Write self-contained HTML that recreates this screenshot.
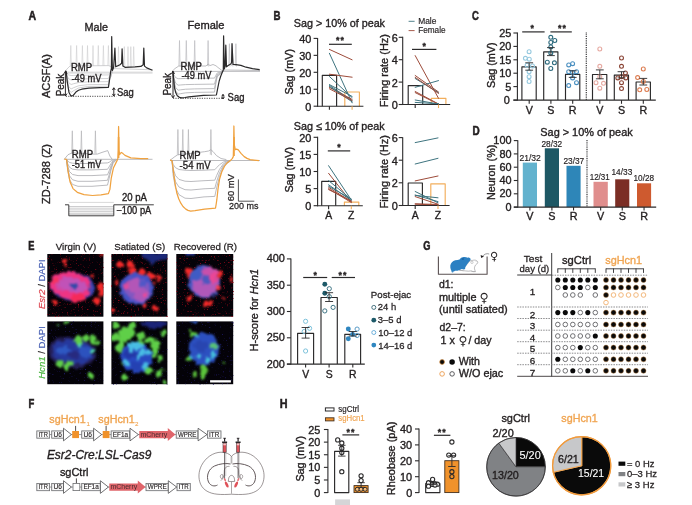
<!DOCTYPE html>
<html lang="en"><head><meta charset="utf-8"><title>Figure</title>
<style>
html,body{margin:0;padding:0;background:#fff;}
body{width:692px;height:505px;overflow:hidden;}
svg{display:block;font-family:"Liberation Sans",sans-serif;fill:#231f20;}
</style></head><body>
<svg width="692" height="505" viewBox="0 0 692 505">
<rect width="692" height="505" fill="#ffffff"/>
<g id="panel_a">
<text font-size="12.2" stroke="#231f20" stroke-width="0.55" textLength="7.6" lengthAdjust="spacingAndGlyphs" font-weight="bold" x="28.6" y="20">A</text>
<text font-size="11.44" stroke="#231f20" stroke-width="0.36" textLength="23.5" lengthAdjust="spacingAndGlyphs" x="84.5" y="31">Male</text>
<text font-size="11.44" stroke="#231f20" stroke-width="0.36" textLength="37" lengthAdjust="spacingAndGlyphs" x="187.5" y="29.3">Female</text>
<text font-size="11.44" stroke="#231f20" stroke-width="0.36" textLength="44" lengthAdjust="spacingAndGlyphs" transform="translate(49.6,98) rotate(-90)">ACSF(A)</text>
<text font-size="11.44" stroke="#231f20" stroke-width="0.36" textLength="60" lengthAdjust="spacingAndGlyphs" transform="translate(50.2,204) rotate(-90)">ZD-7288 (Z)</text>
<line x1="65" y1="72.2" x2="152.5" y2="72.2" stroke="#bdbdc0" stroke-width="0.7" />
<line x1="65" y1="73.3" x2="152.5" y2="73.3" stroke="#d6d6d8" stroke-width="0.7" />
<path d="M70.2,65.5 L70.8,45.5 L71.39999999999999,66.0 M76.0,65.5 L76.6,45.5 L77.19999999999999,66.0 M81.80000000000001,65.5 L82.4,45.5 L83.0,66.0 M86.9,65.5 L87.5,45.5 L88.1,66.0 M92.4,65.5 L93,45.5 L93.6,66.0 M97.7,65.5 L98.3,45.5 L98.89999999999999,66.0 M102.80000000000001,65.5 L103.4,45.5 L104.0,66.0 M107.80000000000001,65.5 L108.4,45.5 L109.0,66.0" stroke="#c9c9cc" stroke-width="0.55" fill="none"/>
<path d="M65,71.5 L67,69 L70,66 L108.4,65.6 L111,66.5 L112,68.5 L152.5,69.8" stroke="#bdbdc0" stroke-width="0.7" fill="none" stroke-linejoin="round" />
<path d="M117.9,66.8 L118.5,46.6 L119.1,67.3 M123.7,66.8 L124.3,46.6 L124.89999999999999,67.3 M127.4,66.8 L128,46.6 L128.6,67.3 M130.20000000000002,66.8 L130.8,46.6 L131.4,67.3 M133.1,66.8 L133.7,46.6 L134.29999999999998,67.3" stroke="#c9c9cc" stroke-width="0.55" fill="none"/>
<path d="M65.6,71.5 L66.8,73.3 L68.6,74.9 L71.1,75.5 L73.6,75.41 L78.6,75.28 L87.6,75.2 L108.4,74.9 L109.6,73.8 L111.0,72.5 L112.2,71.5" stroke="#bdbdc0" stroke-width="0.7" fill="none" stroke-linejoin="round" />
<path d="M65.6,71.5 L66.8,75.33 L68.6,78.72 L71.1,80.0 L73.6,79.64 L78.6,79.1 L87.6,78.8 L108.4,78.5 L109.6,75.83 L111.0,73.62 L112.2,71.5" stroke="#bdbdc0" stroke-width="0.7" fill="none" stroke-linejoin="round" />
<path d="M65.6,71.5 L66.8,77.35 L68.6,82.55 L71.1,84.5 L73.6,83.72 L78.6,82.55 L87.6,81.9 L108.4,81.6 L109.6,77.35 L111.0,74.75 L112.2,71.5" stroke="#bdbdc0" stroke-width="0.7" fill="none" stroke-linejoin="round" />
<path d="M65.6,71.5 L66.8,79.38 L68.6,86.38 L71.1,89.0 L73.6,87.71 L78.6,85.78 L87.6,84.7 L108.4,84.4 L109.6,78.58 L111.0,75.88 L112.2,71.5" stroke="#bdbdc0" stroke-width="0.7" fill="none" stroke-linejoin="round" />
<path d="M65.6,71.5 L66.8,80.95 L68.6,89.35 L71.1,92.5 L73.6,90.7 L78.6,88.0 L87.6,86.5 L108.4,86.2 L109.6,79.15 L111.0,76.75 L112.2,71.5" stroke="#bdbdc0" stroke-width="0.7" fill="none" stroke-linejoin="round" />
<path d="M65,71.2 L66.2,71.3 L67.3,82 L69,92.5 L70.8,95.8 L73,95.6 L75.9,92.1 L78.5,90.3 L81.7,89.2 L88.9,88.1 L100,87.6 L108.4,87.4 L109.4,81 L110.6,71.9 L111.4,68.3 L111.7,36.5 L112.4,70.5 L113.6,67.6 L114.9,48 L115.7,66.8 L120,64.7 L121.6,63.2 L122.1,48.8 L122.9,66.1 L125,67.3 L135,66.9 L140.9,66.4 L143.2,64.8 L143.8,48 L144.5,66.1 L146.7,67.9 L152.5,70.2" stroke="#2b2a2b" stroke-width="1.2" fill="none" stroke-linejoin="round" />
<line x1="65.4" y1="71.4" x2="65.4" y2="96" stroke="#231f20" stroke-width="0.95" /><path d="M63.800000000000004,73.80000000000001 L65.4,71.4 L67.0,73.80000000000001" stroke="#231f20" stroke-width="0.95" fill="none"/><path d="M63.800000000000004,93.6 L65.4,96 L67.0,93.6" stroke="#231f20" stroke-width="0.95" fill="none"/>
<line x1="65.8" y1="96.3" x2="116.4" y2="96.3" stroke="#231f20" stroke-width="0.8" stroke-dasharray="1.2 1.2"/>
<line x1="113.8" y1="87.8" x2="113.8" y2="96" stroke="#231f20" stroke-width="0.95" /><path d="M112.39999999999999,89.89999999999999 L113.8,87.8 L115.2,89.89999999999999" stroke="#231f20" stroke-width="0.95" fill="none"/><path d="M112.39999999999999,93.9 L113.8,96 L115.2,93.9" stroke="#231f20" stroke-width="0.95" fill="none"/>
<text font-size="10.82" stroke="#231f20" stroke-width="0.36" textLength="22.5" lengthAdjust="spacingAndGlyphs" transform="translate(63.6,96.3) rotate(-90)">Peak</text>
<text font-size="10.5" stroke="#231f20" stroke-width="0.36" textLength="21.2" lengthAdjust="spacingAndGlyphs" x="70.9" y="71.4">RMP</text>
<text font-size="10.5" stroke="#231f20" stroke-width="0.36" textLength="30" lengthAdjust="spacingAndGlyphs" x="71.4" y="81.5">-49 mV</text>
<text font-size="10.4" stroke="#231f20" stroke-width="0.36" textLength="16.8" lengthAdjust="spacingAndGlyphs" x="117" y="96.2">Sag</text>
<line x1="172.3" y1="71.4" x2="260" y2="71.4" stroke="#adadb1" stroke-width="0.8" />
<path d="M178.9,66 L179.5,40.5 L180.1,66.5 M185.70000000000002,66 L186.3,40.5 L186.9,66.5 M194.1,66 L194.7,40.5 L195.29999999999998,66.5 M207.5,66 L208.1,40.5 L208.7,66.5" stroke="#bcbcc0" stroke-width="0.7" fill="none"/>
<path d="M172.3,71.2 L175,68.5 L178.8,66 L206,66 L208.1,64 L210,65.6 L213,64.5 L216,65.8 L218,67.5 L222,70.5 L226,70 L260,70.5" stroke="#adadb1" stroke-width="0.8" fill="none" stroke-linejoin="round" />
<path d="M228.8,66 L229.4,43.7 L230.0,66.5 M231.70000000000002,66 L232.3,43.7 L232.9,66.5 M235.3,66 L235.9,43.7 L236.5,66.5" stroke="#bcbcc0" stroke-width="0.7" fill="none"/>
<path d="M172.6,71.2 L173.8,74.58 L175.6,77.58 L178.1,78.7 L180.6,78.61 L185.6,78.48 L194.6,78.4 L214.5,78.1 L215.7,75.78 L217.1,73.08 L223.3,71.2" stroke="#adadb1" stroke-width="0.8" fill="none" stroke-linejoin="round" />
<path d="M172.6,71.2 L173.8,77.5 L175.6,83.1 L178.1,85.2 L180.6,84.96 L185.6,84.6 L194.6,84.4 L214.5,84.1 L215.7,79.5 L217.1,74.7 L223.3,71.2" stroke="#adadb1" stroke-width="0.8" fill="none" stroke-linejoin="round" />
<path d="M172.6,71.2 L173.8,79.75 L175.6,87.35 L178.1,90.2 L180.6,89.81 L185.6,89.23 L194.6,88.9 L214.5,88.6 L215.7,82.25 L217.1,75.95 L223.3,71.2" stroke="#adadb1" stroke-width="0.8" fill="none" stroke-linejoin="round" />
<path d="M172.6,71.2 L173.8,81.55 L175.6,90.75 L178.1,94.2 L180.6,93.66 L185.6,92.85 L194.6,92.4 L214.5,92.1 L215.7,84.35 L217.1,76.95 L223.3,71.2" stroke="#adadb1" stroke-width="0.8" fill="none" stroke-linejoin="round" />
<path d="M172.3,71.2 L173,72 L174.5,87.8 L175.8,92.8 L177.3,95.75 L179.4,97.3 L181.7,97.9 L185,97.5 L188.9,96.8 L203.4,95.3 L216.4,95 L217.8,87.8 L219.2,81 L220.7,76.2 L222.2,72.6 L223.3,70 L223.6,35.8 L224.3,69 L225.2,66 L225.8,45.2 L226.5,66.8 L228.5,65.2 L230.8,64 L231.6,62.5 L232,43.7 L233,64.4 L236,64.6 L240.9,65.4 L246,67.2 L252.5,68.7 L259.7,69.7" stroke="#2b2a2b" stroke-width="1.2" fill="none" stroke-linejoin="round" />
<line x1="173" y1="71.4" x2="173" y2="97.8" stroke="#231f20" stroke-width="0.95" /><path d="M171.4,73.80000000000001 L173,71.4 L174.6,73.80000000000001" stroke="#231f20" stroke-width="0.95" fill="none"/><path d="M171.4,95.39999999999999 L173,97.8 L174.6,95.39999999999999" stroke="#231f20" stroke-width="0.95" fill="none"/>
<line x1="173" y1="98.3" x2="222.2" y2="98.3" stroke="#231f20" stroke-width="0.8" stroke-dasharray="1.2 1.2"/>
<line x1="223" y1="94.4" x2="223" y2="99" stroke="#231f20" stroke-width="0.95" /><path d="M221.7,96.35000000000001 L223,94.4 L224.3,96.35000000000001" stroke="#231f20" stroke-width="0.95" fill="none"/><path d="M221.7,97.05 L223,99 L224.3,97.05" stroke="#231f20" stroke-width="0.95" fill="none"/>
<text font-size="10.61" stroke="#231f20" stroke-width="0.36" textLength="22.6" lengthAdjust="spacingAndGlyphs" transform="translate(171.3,95.6) rotate(-90)">Peak</text>
<text font-size="10.5" stroke="#231f20" stroke-width="0.36" textLength="21.2" lengthAdjust="spacingAndGlyphs" x="180.6" y="69.7">RMP</text>
<text font-size="10.5" stroke="#231f20" stroke-width="0.36" textLength="30" lengthAdjust="spacingAndGlyphs" x="181.4" y="79.4">-49 mV</text>
<text font-size="10.4" stroke="#231f20" stroke-width="0.36" textLength="16.8" lengthAdjust="spacingAndGlyphs" x="227.6" y="100.5">Sag</text>
<line x1="64.3" y1="159.3" x2="152.5" y2="159.3" stroke="#a9a9ad" stroke-width="0.8" />
<path d="M71.7,153.5 L72.3,130.8 L72.89999999999999,154.0 M80.80000000000001,153.5 L81.4,130.8 L82.0,154.0 M94.80000000000001,153.5 L95.4,130.8 L96.0,154.0" stroke="#b4b4b8" stroke-width="0.7" fill="none"/>
<path d="M64.3,159.3 L68,154.7 L72.3,152.8 L95.4,154.2 L97.6,154 L102,152.4 L107.7,150.6 L109.9,156.1 L112,159" stroke="#a9a9ae" stroke-width="0.8" fill="none" stroke-linejoin="round" />
<path d="M66.5,159.3 L67.6,160.98 L69.5,162.45 L72.5,163.21 L78,163.5 L92,163.5 L107.5,162.9 L109.2,162.24 L111,160.98 L113,159.93 L113,159.3" stroke="#a9a9ae" stroke-width="0.8" fill="none" stroke-linejoin="round" />
<path d="M66.5,159.3 L67.6,163.54 L69.5,167.25 L72.5,169.16 L78,169.9 L92,169.9 L107.5,169.3 L109.2,166.72 L111,163.54 L113,160.89 L114.5,159.3" stroke="#a9a9ae" stroke-width="0.8" fill="none" stroke-linejoin="round" />
<path d="M66.5,159.3 L67.6,165.82 L69.5,171.53 L72.5,174.46 L78,175.6 L92,175.6 L107.5,174.8 L109.2,170.71 L111,165.82 L113,161.75 L115.5,159.3" stroke="#a9a9ae" stroke-width="0.8" fill="none" stroke-linejoin="round" />
<path d="M66.5,159.3 L67.6,168.1 L69.5,175.8 L72.5,179.76 L78,181.3 L92,181.3 L107.5,180.3 L109.2,174.7 L111,168.1 L113,162.6 L116.2,159.3" stroke="#a9a9ae" stroke-width="0.8" fill="none" stroke-linejoin="round" />
<path d="M66.5,159.3 L67.6,170.1 L69.5,179.55 L72.5,184.41 L78,186.3 L92,186.3 L107.5,185.1 L109.2,178.2 L111,170.1 L113,163.35 L116.8,159.3" stroke="#a9a9ae" stroke-width="0.8" fill="none" stroke-linejoin="round" />
<path d="M64.3,159 L66.5,159.3 L67.2,164 L68,170.6 L70.1,182.1 L73,188.6 L77.3,192.3 L84,194.6 L92.5,195.5 L101,194.8 L108.4,193.6 L109.9,189.4 L111.3,177.8 L113.5,167.7 L116.4,161.9 L117.8,159 L118.3,150 L118.6,126.5 L119,150 L119.6,154.7 L120.4,153.2 L121.4,152.5 L123,153.6 L125,155.4 L130.8,157.9 L140.9,158.7 L148.2,158.7" stroke="#f0a23f" stroke-width="1.25" fill="none" stroke-linejoin="round" />
<path d="M118.6,137 L118.6,158" stroke="#f0a23f" stroke-width="1.6" fill="none" stroke-linejoin="round" />
<text font-size="10.5" stroke="#231f20" stroke-width="0.36" textLength="21.2" lengthAdjust="spacingAndGlyphs" x="71.8" y="157.8">RMP</text>
<text font-size="10.5" stroke="#231f20" stroke-width="0.36" textLength="29.5" lengthAdjust="spacingAndGlyphs" x="71.8" y="167.8">-51 mV</text>
<line x1="68.8" y1="206.5" x2="113.8" y2="206.5" stroke="#8f8f93" stroke-width="0.45" />
<line x1="68.8" y1="208.2" x2="113.8" y2="208.2" stroke="#8f8f93" stroke-width="0.45" />
<line x1="68.8" y1="209.9" x2="113.8" y2="209.9" stroke="#8f8f93" stroke-width="0.45" />
<line x1="68.8" y1="211.6" x2="113.8" y2="211.6" stroke="#8f8f93" stroke-width="0.45" />
<line x1="68.8" y1="213.3" x2="113.8" y2="213.3" stroke="#8f8f93" stroke-width="0.45" />
<line x1="68.8" y1="214.6" x2="113.8" y2="214.6" stroke="#8f8f93" stroke-width="0.45" />
<line x1="68.8" y1="202.4" x2="113.8" y2="202.4" stroke="#bdbdc0" stroke-width="0.6" />
<path d="M65,204.8 L68.8,204.8 L68.8,215.8 L113.8,215.8 L113.8,204.8 L153.8,204.8" stroke="#2b2a2b" stroke-width="0.9" fill="none" stroke-linejoin="round" />
<text font-size="10.4" stroke="#231f20" stroke-width="0.36" textLength="25" lengthAdjust="spacingAndGlyphs" x="122" y="200.5">20 pA</text>
<text font-size="10.4" stroke="#231f20" stroke-width="0.36" textLength="35" lengthAdjust="spacingAndGlyphs" x="116.3" y="213.8">−100 pA</text>
<line x1="170" y1="160.5" x2="260" y2="160.5" stroke="#a9a9ad" stroke-width="0.8" />
<path d="M177.3,154.7 L177.9,129.5 L178.5,155.2 M182.20000000000002,154.7 L182.8,129.5 L183.4,155.2 M187.8,154.7 L188.4,129.5 L189.0,155.2 M210.3,154.7 L210.9,129.5 L211.5,155.2" stroke="#b4b4b8" stroke-width="0.7" fill="none"/>
<path d="M170,160.3 L174.9,156.6 L177.9,154.7 L190,153.5 L204.6,151.7 L208.5,151 L210.9,149.7 L213,151.5 L216.5,155.6 L221,158.5 L226.4,159.6" stroke="#a9a9ae" stroke-width="0.8" fill="none" stroke-linejoin="round" />
<path d="M172,160.5 L173.2,164.5 L175.5,167.7 L179,169.5 L185,170.2 L191,170.5 L204,170.2 L214.8,169.7 L216.6,167.7 L219.5,164.7 L223.5,162.0 L228.8,160.5" stroke="#a9a9ae" stroke-width="0.8" fill="none" stroke-linejoin="round" />
<path d="M172,160.5 L173.2,168.9 L175.5,175.62 L179,179.4 L185,181.2 L191,181.5 L204,180.7 L214.8,180.2 L216.6,175.62 L219.5,169.32 L223.5,163.65 L229.68,160.5" stroke="#a9a9ae" stroke-width="0.8" fill="none" stroke-linejoin="round" />
<path d="M172,160.5 L173.2,172.3 L175.5,181.74 L179,187.05 L185,189.7 L191,190.0 L204,188.8 L214.8,188.3 L216.6,181.74 L219.5,172.89 L223.5,164.93 L230.36,160.5" stroke="#a9a9ae" stroke-width="0.8" fill="none" stroke-linejoin="round" />
<path d="M172,160.5 L173.2,175.7 L175.5,187.86 L179,194.7 L185,198.2 L191,198.5 L204,196.9 L214.8,196.4 L216.6,187.86 L219.5,176.46 L223.5,166.2 L231.04,160.5" stroke="#a9a9ae" stroke-width="0.8" fill="none" stroke-linejoin="round" />
<path d="M170,160.2 L172,160.6 L172.9,167 L173.9,175.4 L175.3,185 L176.9,193.3 L178.7,198.8 L180.8,203.2 L183,206.5 L185.8,209.1 L188,210.4 L190.7,211.1 L195,210.6 L204.6,209.1 L215.5,208.1 L216.2,204 L216.9,199.2 L218,189 L219.5,179.4 L221.7,172 L224.4,166.5 L227,163 L230.3,160.6 L232.2,158.6 L233.3,156.6 L233.7,140 L233.9,126 L234.3,145 L235.3,149.7 L236.6,149.2 L238.3,149.9 L241,153.4 L244.2,156.6 L247,158.4 L250.1,159.6 L259,160.6" stroke="#f0a23f" stroke-width="1.25" fill="none" stroke-linejoin="round" />
<path d="M234.1,137 L234.1,156" stroke="#f0a23f" stroke-width="1.5" fill="none" stroke-linejoin="round" />
<text font-size="10.5" stroke="#231f20" stroke-width="0.36" textLength="21" lengthAdjust="spacingAndGlyphs" x="179.6" y="158.6">RMP</text>
<text font-size="10.5" stroke="#231f20" stroke-width="0.36" textLength="31" lengthAdjust="spacingAndGlyphs" x="179.6" y="168.6">-54 mV</text>
<path d="M238.4,179.4 L238.4,201.2 L254.3,201.2" stroke="#2b2a2b" stroke-width="0.8" fill="none" stroke-linejoin="round" />
<text font-size="9.98" stroke="#231f20" stroke-width="0.27" textLength="27.2" lengthAdjust="spacingAndGlyphs" transform="translate(234.2,201.3) rotate(-90)">60 mV</text>
<text font-size="9.98" stroke="#231f20" stroke-width="0.27" textLength="29.4" lengthAdjust="spacingAndGlyphs" x="229" y="209.3">200 ms</text>
</g>
<g id="panel_b">
<text font-size="12.2" stroke="#231f20" stroke-width="0.55" textLength="7" lengthAdjust="spacingAndGlyphs" font-weight="bold" x="273.6" y="19.6">B</text>
<text font-size="11.02" stroke="#231f20" stroke-width="0.36" textLength="91.2" lengthAdjust="spacingAndGlyphs" x="293.8" y="27.3">Sag &gt; 10% of peak</text>
<text font-size="11.02" stroke="#231f20" stroke-width="0.36" textLength="90.8" lengthAdjust="spacingAndGlyphs" x="293.8" y="129.6">Sag ≤ 10% of peak</text>
<line x1="408.6" y1="21.3" x2="414.6" y2="21.3" stroke="#3e747f" stroke-width="0.9" />
<text font-size="8.74" stroke="#231f20" stroke-width="0.17" textLength="18.2" lengthAdjust="spacingAndGlyphs" x="418.2" y="24">Male</text>
<line x1="408.6" y1="30.6" x2="414.6" y2="30.6" stroke="#9d4b3a" stroke-width="0.9" />
<text font-size="8.74" stroke="#231f20" stroke-width="0.17" textLength="27.4" lengthAdjust="spacingAndGlyphs" x="418.2" y="33.2">Female</text>
<path d="M322.3,106.2 L322.3,75.3 L336.6,75.3 L336.6,106.2" stroke="#2b2a2b" stroke-width="1.15" fill="none" stroke-linejoin="round" />
<path d="M344.8,106.2 L344.8,92 L359.4,92 L359.4,106.2" stroke="#f2ae5c" stroke-width="1.15" fill="none" stroke-linejoin="round" />
<line x1="329.4" y1="49.4" x2="352.1" y2="59.8" stroke="#9d4b3a" stroke-width="1.0" stroke-linecap="round"/>
<line x1="329.4" y1="53.3" x2="352.1" y2="102.8" stroke="#3e747f" stroke-width="1.0" stroke-linecap="round"/>
<line x1="329.4" y1="74.2" x2="352.1" y2="77.2" stroke="#9d4b3a" stroke-width="1.0" stroke-linecap="round"/>
<line x1="329.4" y1="76.5" x2="352.1" y2="97.6" stroke="#3e747f" stroke-width="1.0" stroke-linecap="round"/>
<line x1="329.4" y1="85.3" x2="352.1" y2="100.6" stroke="#3e747f" stroke-width="1.0" stroke-linecap="round"/>
<line x1="329.4" y1="87.4" x2="352.1" y2="99.4" stroke="#9d4b3a" stroke-width="1.0" stroke-linecap="round"/>
<line x1="329.4" y1="86.4" x2="352.1" y2="101.8" stroke="#3e747f" stroke-width="1.0" stroke-linecap="round"/>
<line x1="329.4" y1="88.8" x2="352.1" y2="100.6" stroke="#9d4b3a" stroke-width="1.0" stroke-linecap="round"/>
<line x1="329.4" y1="84.6" x2="352.1" y2="96.4" stroke="#3e747f" stroke-width="1.0" stroke-linecap="round"/>
<line x1="317.6" y1="37.949999999999996" x2="317.6" y2="106.65" stroke="#2b2a2b" stroke-width="1.1" />
<line x1="317.15000000000003" y1="106.2" x2="363.4" y2="106.2" stroke="#2b2a2b" stroke-width="1.1" />
<line x1="313.6" y1="38.4" x2="317.6" y2="38.4" stroke="#2b2a2b" stroke-width="1.1" />
<text font-size="10.9" stroke="#231f20" stroke-width="0.36" text-anchor="end" x="311.4" y="42.9">40</text>
<line x1="313.6" y1="55.35" x2="317.6" y2="55.35" stroke="#2b2a2b" stroke-width="1.1" />
<text font-size="10.9" stroke="#231f20" stroke-width="0.36" text-anchor="end" x="311.4" y="59.85">30</text>
<line x1="313.6" y1="72.3" x2="317.6" y2="72.3" stroke="#2b2a2b" stroke-width="1.1" />
<text font-size="10.9" stroke="#231f20" stroke-width="0.36" text-anchor="end" x="311.4" y="76.8">20</text>
<line x1="313.6" y1="89.25" x2="317.6" y2="89.25" stroke="#2b2a2b" stroke-width="1.1" />
<text font-size="10.9" stroke="#231f20" stroke-width="0.36" text-anchor="end" x="311.4" y="93.75">10</text>
<line x1="313.6" y1="106.2" x2="317.6" y2="106.2" stroke="#2b2a2b" stroke-width="1.1" />
<text font-size="10.9" stroke="#231f20" stroke-width="0.36" text-anchor="end" x="311.4" y="110.7">0</text>
<line x1="329.4" y1="106.2" x2="329.4" y2="109.8" stroke="#2b2a2b" stroke-width="1.1" />
<line x1="352.1" y1="106.2" x2="352.1" y2="109.8" stroke="#f2ae5c" stroke-width="1.1" />
<line x1="329" y1="44.3" x2="351.8" y2="44.3" stroke="#2b2a2b" stroke-width="1.2" />
<text font-size="8.8" stroke="#231f20" stroke-width="0.35" text-anchor="middle" font-weight="bold" x="340.4" y="43.4" letter-spacing="1.1">**</text>
<text font-size="10.61" stroke="#231f20" stroke-width="0.36" textLength="45.6" lengthAdjust="spacingAndGlyphs" transform="translate(293.4,94.6) rotate(-90)">Sag (mV)</text>
<path d="M408.2,104.5 L408.2,85.6 L422.7,85.6 L422.7,104.5" stroke="#2b2a2b" stroke-width="1.15" fill="none" stroke-linejoin="round" />
<path d="M431.3,104.5 L431.3,98.3 L445.9,98.3 L445.9,104.5" stroke="#f2ae5c" stroke-width="1.15" fill="none" stroke-linejoin="round" />
<line x1="415.2" y1="55.6" x2="438.5" y2="98.3" stroke="#9d4b3a" stroke-width="1.0" stroke-linecap="round"/>
<line x1="415.2" y1="75.5" x2="438.5" y2="92" stroke="#9d4b3a" stroke-width="1.0" stroke-linecap="round"/>
<line x1="415.2" y1="78.5" x2="438.5" y2="92.7" stroke="#3e747f" stroke-width="1.0" stroke-linecap="round"/>
<line x1="415.2" y1="87.3" x2="438.5" y2="80.6" stroke="#3e747f" stroke-width="1.0" stroke-linecap="round"/>
<line x1="415.2" y1="91.5" x2="438.5" y2="104" stroke="#9d4b3a" stroke-width="1.0" stroke-linecap="round"/>
<line x1="415.2" y1="92.6" x2="438.5" y2="104.2" stroke="#9d4b3a" stroke-width="1.0" stroke-linecap="round"/>
<line x1="415.2" y1="100" x2="438.5" y2="104" stroke="#3e747f" stroke-width="1.0" stroke-linecap="round"/>
<line x1="415.2" y1="102.4" x2="438.5" y2="103.8" stroke="#3e747f" stroke-width="1.0" stroke-linecap="round"/>
<line x1="415.2" y1="77.4" x2="438.5" y2="93.4" stroke="#9d4b3a" stroke-width="1.0" stroke-linecap="round"/>
<line x1="402.7" y1="36.849999999999994" x2="402.7" y2="104.95" stroke="#2b2a2b" stroke-width="1.1" />
<line x1="402.25" y1="104.5" x2="450.2" y2="104.5" stroke="#2b2a2b" stroke-width="1.1" />
<line x1="398.7" y1="37.3" x2="402.7" y2="37.3" stroke="#2b2a2b" stroke-width="1.1" />
<text font-size="10.9" stroke="#231f20" stroke-width="0.36" text-anchor="end" x="397.8" y="41.8">6</text>
<line x1="398.7" y1="59.7" x2="402.7" y2="59.7" stroke="#2b2a2b" stroke-width="1.1" />
<text font-size="10.9" stroke="#231f20" stroke-width="0.36" text-anchor="end" x="397.8" y="64.2">4</text>
<line x1="398.7" y1="82.1" x2="402.7" y2="82.1" stroke="#2b2a2b" stroke-width="1.1" />
<text font-size="10.9" stroke="#231f20" stroke-width="0.36" text-anchor="end" x="397.8" y="86.6">2</text>
<line x1="398.7" y1="104.5" x2="402.7" y2="104.5" stroke="#2b2a2b" stroke-width="1.1" />
<text font-size="10.9" stroke="#231f20" stroke-width="0.36" text-anchor="end" x="397.8" y="109.0">0</text>
<line x1="415.2" y1="104.5" x2="415.2" y2="108.1" stroke="#2b2a2b" stroke-width="1.1" />
<line x1="438.5" y1="104.5" x2="438.5" y2="108.1" stroke="#f2ae5c" stroke-width="1.1" />
<line x1="412" y1="49.4" x2="436.4" y2="49.4" stroke="#2b2a2b" stroke-width="1.2" />
<text font-size="8.8" stroke="#231f20" stroke-width="0.35" text-anchor="middle" font-weight="bold" x="424.2" y="49.4">*</text>
<text font-size="10.61" stroke="#231f20" stroke-width="0.36" textLength="73.2" lengthAdjust="spacingAndGlyphs" transform="translate(387.8,107.2) rotate(-90)">Firing rate (Hz)</text>
<path d="M321.7,205.7 L321.7,181.4 L335.7,181.4 L335.7,205.7" stroke="#2b2a2b" stroke-width="1.15" fill="none" stroke-linejoin="round" />
<path d="M344.4,205.7 L344.4,202.1 L358.8,202.1 L358.8,205.7" stroke="#f2ae5c" stroke-width="1.15" fill="none" stroke-linejoin="round" />
<line x1="328.6" y1="165.7" x2="351.3" y2="200" stroke="#3e747f" stroke-width="1.0" stroke-linecap="round"/>
<line x1="328.6" y1="173.3" x2="351.3" y2="202.1" stroke="#9d4b3a" stroke-width="1.0" stroke-linecap="round"/>
<line x1="328.6" y1="180.6" x2="351.3" y2="199.4" stroke="#3e747f" stroke-width="1.0" stroke-linecap="round"/>
<line x1="328.6" y1="184.8" x2="351.3" y2="200.5" stroke="#3e747f" stroke-width="1.0" stroke-linecap="round"/>
<line x1="328.6" y1="187.3" x2="351.3" y2="201.6" stroke="#9d4b3a" stroke-width="1.0" stroke-linecap="round"/>
<line x1="328.6" y1="188.7" x2="351.3" y2="202.5" stroke="#9d4b3a" stroke-width="1.0" stroke-linecap="round"/>
<line x1="328.6" y1="186.2" x2="351.3" y2="199" stroke="#3e747f" stroke-width="1.0" stroke-linecap="round"/>
<line x1="328.6" y1="189.6" x2="351.3" y2="201" stroke="#9d4b3a" stroke-width="1.0" stroke-linecap="round"/>
<line x1="317.6" y1="136.85000000000002" x2="317.6" y2="206.14999999999998" stroke="#2b2a2b" stroke-width="1.1" />
<line x1="317.15000000000003" y1="205.7" x2="362.8" y2="205.7" stroke="#2b2a2b" stroke-width="1.1" />
<line x1="313.6" y1="137.3" x2="317.6" y2="137.3" stroke="#2b2a2b" stroke-width="1.1" />
<text font-size="10.9" stroke="#231f20" stroke-width="0.36" text-anchor="end" x="311.4" y="141.8">20</text>
<line x1="313.6" y1="154.4" x2="317.6" y2="154.4" stroke="#2b2a2b" stroke-width="1.1" />
<text font-size="10.9" stroke="#231f20" stroke-width="0.36" text-anchor="end" x="311.4" y="158.9">15</text>
<line x1="313.6" y1="171.5" x2="317.6" y2="171.5" stroke="#2b2a2b" stroke-width="1.1" />
<text font-size="10.9" stroke="#231f20" stroke-width="0.36" text-anchor="end" x="311.4" y="176.0">10</text>
<line x1="313.6" y1="188.6" x2="317.6" y2="188.6" stroke="#2b2a2b" stroke-width="1.1" />
<text font-size="10.9" stroke="#231f20" stroke-width="0.36" text-anchor="end" x="311.4" y="193.1">5</text>
<line x1="313.6" y1="205.7" x2="317.6" y2="205.7" stroke="#2b2a2b" stroke-width="1.1" />
<text font-size="10.9" stroke="#231f20" stroke-width="0.36" text-anchor="end" x="311.4" y="210.2">0</text>
<line x1="328.6" y1="205.7" x2="328.6" y2="209.29999999999998" stroke="#2b2a2b" stroke-width="1.1" />
<line x1="351.3" y1="205.7" x2="351.3" y2="209.29999999999998" stroke="#f2ae5c" stroke-width="1.1" />
<line x1="327.8" y1="150.9" x2="350.2" y2="150.9" stroke="#2b2a2b" stroke-width="1.2" />
<text font-size="8.8" stroke="#231f20" stroke-width="0.35" text-anchor="middle" font-weight="bold" x="339.0" y="150.0">*</text>
<text font-size="10.61" stroke="#231f20" stroke-width="0.36" textLength="45.6" lengthAdjust="spacingAndGlyphs" transform="translate(293.4,192.6) rotate(-90)">Sag (mV)</text>
<text font-size="10.4" stroke="#231f20" stroke-width="0.36" text-anchor="middle" x="328.6" y="218.8">A</text>
<text font-size="10.4" stroke="#231f20" stroke-width="0.36" text-anchor="middle" x="351.3" y="218.8">Z</text>
<path d="M408.2,205.5 L408.2,183 L422.4,183 L422.4,205.5" stroke="#2b2a2b" stroke-width="1.15" fill="none" stroke-linejoin="round" />
<path d="M430.8,205.5 L430.8,183.9 L445.2,183.9 L445.2,205.5" stroke="#f2ae5c" stroke-width="1.15" fill="none" stroke-linejoin="round" />
<line x1="415.2" y1="142.6" x2="438" y2="137.9" stroke="#3e747f" stroke-width="1.0" stroke-linecap="round"/>
<line x1="415.2" y1="164" x2="438" y2="158.3" stroke="#3e747f" stroke-width="1.0" stroke-linecap="round"/>
<line x1="415.2" y1="180.9" x2="438" y2="176" stroke="#9d4b3a" stroke-width="1.0" stroke-linecap="round"/>
<line x1="415.2" y1="191.5" x2="438" y2="202.8" stroke="#3e747f" stroke-width="1.0" stroke-linecap="round"/>
<line x1="415.2" y1="195.4" x2="438" y2="197.8" stroke="#3e747f" stroke-width="1.0" stroke-linecap="round"/>
<line x1="415.2" y1="196.6" x2="438" y2="204.2" stroke="#9d4b3a" stroke-width="1.0" stroke-linecap="round"/>
<line x1="415.2" y1="195" x2="438" y2="201.6" stroke="#3e747f" stroke-width="1.0" stroke-linecap="round"/>
<line x1="415.2" y1="203.8" x2="438" y2="204.5" stroke="#9d4b3a" stroke-width="1.0" stroke-linecap="round"/>
<line x1="415.2" y1="204.2" x2="438" y2="205" stroke="#9d4b3a" stroke-width="1.0" stroke-linecap="round"/>
<line x1="402.7" y1="137.15" x2="402.7" y2="205.95" stroke="#2b2a2b" stroke-width="1.1" />
<line x1="402.25" y1="205.5" x2="449.6" y2="205.5" stroke="#2b2a2b" stroke-width="1.1" />
<line x1="398.7" y1="137.6" x2="402.7" y2="137.6" stroke="#2b2a2b" stroke-width="1.1" />
<text font-size="10.9" stroke="#231f20" stroke-width="0.36" text-anchor="end" x="397.8" y="142.1">6</text>
<line x1="398.7" y1="160.2" x2="402.7" y2="160.2" stroke="#2b2a2b" stroke-width="1.1" />
<text font-size="10.9" stroke="#231f20" stroke-width="0.36" text-anchor="end" x="397.8" y="164.7">4</text>
<line x1="398.7" y1="182.8" x2="402.7" y2="182.8" stroke="#2b2a2b" stroke-width="1.1" />
<text font-size="10.9" stroke="#231f20" stroke-width="0.36" text-anchor="end" x="397.8" y="187.3">2</text>
<line x1="398.7" y1="205.5" x2="402.7" y2="205.5" stroke="#2b2a2b" stroke-width="1.1" />
<text font-size="10.9" stroke="#231f20" stroke-width="0.36" text-anchor="end" x="397.8" y="210.0">0</text>
<line x1="415.2" y1="205.5" x2="415.2" y2="209.1" stroke="#2b2a2b" stroke-width="1.1" />
<line x1="438" y1="205.5" x2="438" y2="209.1" stroke="#f2ae5c" stroke-width="1.1" />
<text font-size="10.61" stroke="#231f20" stroke-width="0.36" textLength="73.2" lengthAdjust="spacingAndGlyphs" transform="translate(387.8,208.4) rotate(-90)">Firing rate (Hz)</text>
<text font-size="10.4" stroke="#231f20" stroke-width="0.36" text-anchor="middle" x="415.2" y="218.8">A</text>
<text font-size="10.4" stroke="#231f20" stroke-width="0.36" text-anchor="middle" x="438" y="218.8">Z</text>
</g>
<g id="panel_c">
<text font-size="12.2" stroke="#231f20" stroke-width="0.55" textLength="6.8" lengthAdjust="spacingAndGlyphs" font-weight="bold" x="472" y="20">C</text>
<text font-size="10.82" stroke="#231f20" stroke-width="0.36" textLength="45.6" lengthAdjust="spacingAndGlyphs" transform="translate(494.8,88) rotate(-90)">Sag (mV)</text>
<path d="M521.9,100.1 L521.9,66.9 L536.2,66.9 L536.2,100.1" stroke="#2b2a2b" stroke-width="1.15" fill="#fff" stroke-linejoin="round" />
<path d="M543.7,100.1 L543.7,51.8 L557.9,51.8 L557.9,100.1" stroke="#2b2a2b" stroke-width="1.15" fill="#fff" stroke-linejoin="round" />
<path d="M565.5,100.1 L565.5,74.4 L579.8,74.4 L579.8,100.1" stroke="#2b2a2b" stroke-width="1.15" fill="#fff" stroke-linejoin="round" />
<path d="M592.5,100.1 L592.5,74.5 L606.8,74.5 L606.8,100.1" stroke="#2b2a2b" stroke-width="1.15" fill="#fff" stroke-linejoin="round" />
<path d="M614.3,100.1 L614.3,75.1 L628.5,75.1 L628.5,100.1" stroke="#2b2a2b" stroke-width="1.15" fill="#fff" stroke-linejoin="round" />
<path d="M636.1,100.1 L636.1,82 L650.4,82 L650.4,100.1" stroke="#2b2a2b" stroke-width="1.15" fill="#fff" stroke-linejoin="round" />
<circle cx="529.1" cy="51.7" r="1.95" fill="none" stroke="#96c9df" stroke-width="1.1" />
<circle cx="525.4" cy="58.3" r="1.95" fill="none" stroke="#96c9df" stroke-width="1.1" />
<circle cx="529.3" cy="59.2" r="1.95" fill="none" stroke="#96c9df" stroke-width="1.1" />
<circle cx="527.1" cy="65.2" r="1.95" fill="none" stroke="#96c9df" stroke-width="1.1" />
<circle cx="532.5" cy="66" r="1.95" fill="none" stroke="#96c9df" stroke-width="1.1" />
<circle cx="529.1" cy="71.7" r="1.95" fill="none" stroke="#96c9df" stroke-width="1.1" />
<circle cx="529.1" cy="76.7" r="1.95" fill="none" stroke="#96c9df" stroke-width="1.1" />
<circle cx="529.1" cy="81.5" r="1.95" fill="none" stroke="#96c9df" stroke-width="1.1" />
<circle cx="550.8" cy="37.3" r="1.95" fill="none" stroke="#2e6b7e" stroke-width="1.1" />
<circle cx="554.8" cy="40.5" r="1.95" fill="none" stroke="#2e6b7e" stroke-width="1.1" />
<circle cx="550.8" cy="42.5" r="1.95" fill="none" stroke="#2e6b7e" stroke-width="1.1" />
<circle cx="550.8" cy="46.9" r="1.95" fill="none" stroke="#2e6b7e" stroke-width="1.1" />
<circle cx="550.8" cy="53" r="1.95" fill="none" stroke="#2e6b7e" stroke-width="1.1" />
<circle cx="547.3" cy="62.2" r="1.95" fill="none" stroke="#2e6b7e" stroke-width="1.1" />
<circle cx="554.4" cy="62.8" r="1.95" fill="none" stroke="#2e6b7e" stroke-width="1.1" />
<circle cx="550.8" cy="68.5" r="1.95" fill="none" stroke="#2e6b7e" stroke-width="1.1" />
<circle cx="568.7" cy="64.9" r="1.95" fill="none" stroke="#4a8fc0" stroke-width="1.1" />
<circle cx="572.6" cy="63.7" r="1.95" fill="none" stroke="#4a8fc0" stroke-width="1.1" />
<circle cx="568.7" cy="71.7" r="1.95" fill="none" stroke="#4a8fc0" stroke-width="1.1" />
<circle cx="576.5" cy="71.7" r="1.95" fill="none" stroke="#4a8fc0" stroke-width="1.1" />
<circle cx="572.6" cy="72.4" r="1.95" fill="none" stroke="#4a8fc0" stroke-width="1.1" />
<circle cx="572.6" cy="77.9" r="1.95" fill="none" stroke="#4a8fc0" stroke-width="1.1" />
<circle cx="576.5" cy="82.7" r="1.95" fill="none" stroke="#4a8fc0" stroke-width="1.1" />
<circle cx="568.7" cy="85.6" r="1.95" fill="none" stroke="#4a8fc0" stroke-width="1.1" />
<circle cx="599.8" cy="49" r="1.95" fill="none" stroke="#e6aaa2" stroke-width="1.1" />
<circle cx="599.8" cy="66.3" r="1.95" fill="none" stroke="#e6aaa2" stroke-width="1.1" />
<circle cx="599.8" cy="76.7" r="1.95" fill="none" stroke="#e6aaa2" stroke-width="1.1" />
<circle cx="596" cy="82.7" r="1.95" fill="none" stroke="#e6aaa2" stroke-width="1.1" />
<circle cx="603.5" cy="83.3" r="1.95" fill="none" stroke="#e6aaa2" stroke-width="1.1" />
<circle cx="599.8" cy="88.2" r="1.95" fill="none" stroke="#e6aaa2" stroke-width="1.1" />
<circle cx="621.5" cy="58" r="1.95" fill="none" stroke="#8a4435" stroke-width="1.1" />
<circle cx="621.5" cy="66.3" r="1.95" fill="none" stroke="#8a4435" stroke-width="1.1" />
<circle cx="625.4" cy="72.9" r="1.95" fill="none" stroke="#8a4435" stroke-width="1.1" />
<circle cx="617.8" cy="77.9" r="1.95" fill="none" stroke="#8a4435" stroke-width="1.1" />
<circle cx="621.5" cy="76.7" r="1.95" fill="none" stroke="#8a4435" stroke-width="1.1" />
<circle cx="625.8" cy="77.9" r="1.95" fill="none" stroke="#8a4435" stroke-width="1.1" />
<circle cx="621.5" cy="82.7" r="1.95" fill="none" stroke="#8a4435" stroke-width="1.1" />
<circle cx="621.5" cy="88.6" r="1.95" fill="none" stroke="#8a4435" stroke-width="1.1" />
<circle cx="643.3" cy="69" r="1.95" fill="none" stroke="#dc7c50" stroke-width="1.1" />
<circle cx="637.6" cy="77.6" r="1.95" fill="none" stroke="#dc7c50" stroke-width="1.1" />
<circle cx="643.3" cy="81.5" r="1.95" fill="none" stroke="#dc7c50" stroke-width="1.1" />
<circle cx="639.7" cy="89.8" r="1.95" fill="none" stroke="#dc7c50" stroke-width="1.1" />
<circle cx="646.8" cy="89.5" r="1.95" fill="none" stroke="#dc7c50" stroke-width="1.1" />
<line x1="529.2" y1="62.8" x2="529.2" y2="70.2" stroke="#2b2a2b" stroke-width="0.9" /><line x1="525.3000000000001" y1="62.8" x2="533.1" y2="62.8" stroke="#2b2a2b" stroke-width="0.9" /><line x1="525.3000000000001" y1="70.2" x2="533.1" y2="70.2" stroke="#2b2a2b" stroke-width="0.9" />
<line x1="550.9" y1="47.6" x2="550.9" y2="55.6" stroke="#2b2a2b" stroke-width="0.9" /><line x1="547.0" y1="47.6" x2="554.8" y2="47.6" stroke="#2b2a2b" stroke-width="0.9" /><line x1="547.0" y1="55.6" x2="554.8" y2="55.6" stroke="#2b2a2b" stroke-width="0.9" />
<line x1="572.7" y1="70.8" x2="572.7" y2="77.4" stroke="#2b2a2b" stroke-width="0.9" /><line x1="568.8000000000001" y1="70.8" x2="576.6" y2="70.8" stroke="#2b2a2b" stroke-width="0.9" /><line x1="568.8000000000001" y1="77.4" x2="576.6" y2="77.4" stroke="#2b2a2b" stroke-width="0.9" />
<line x1="599.8" y1="69.9" x2="599.8" y2="78.8" stroke="#2b2a2b" stroke-width="0.9" /><line x1="595.9" y1="69.9" x2="603.6999999999999" y2="69.9" stroke="#2b2a2b" stroke-width="0.9" /><line x1="595.9" y1="78.8" x2="603.6999999999999" y2="78.8" stroke="#2b2a2b" stroke-width="0.9" />
<line x1="621.5" y1="71.7" x2="621.5" y2="77.9" stroke="#2b2a2b" stroke-width="0.9" /><line x1="617.6" y1="71.7" x2="625.4" y2="71.7" stroke="#2b2a2b" stroke-width="0.9" /><line x1="617.6" y1="77.9" x2="625.4" y2="77.9" stroke="#2b2a2b" stroke-width="0.9" />
<line x1="643.3" y1="78.4" x2="643.3" y2="85" stroke="#2b2a2b" stroke-width="0.9" /><line x1="639.4" y1="78.4" x2="647.1999999999999" y2="78.4" stroke="#2b2a2b" stroke-width="0.9" /><line x1="639.4" y1="85" x2="647.1999999999999" y2="85" stroke="#2b2a2b" stroke-width="0.9" />
<line x1="517.4" y1="32.55" x2="517.4" y2="100.55" stroke="#2b2a2b" stroke-width="1.1" />
<line x1="513.4" y1="100.1" x2="655.8" y2="100.1" stroke="#2b2a2b" stroke-width="1.1" />
<line x1="513.4" y1="33.0" x2="517.4" y2="33.0" stroke="#2b2a2b" stroke-width="1.1" />
<text font-size="10.9" stroke="#231f20" stroke-width="0.36" text-anchor="end" x="511.4" y="37.0">25</text>
<line x1="513.4" y1="46.4" x2="517.4" y2="46.4" stroke="#2b2a2b" stroke-width="1.1" />
<text font-size="10.9" stroke="#231f20" stroke-width="0.36" text-anchor="end" x="511.4" y="50.4">20</text>
<line x1="513.4" y1="59.8" x2="517.4" y2="59.8" stroke="#2b2a2b" stroke-width="1.1" />
<text font-size="10.9" stroke="#231f20" stroke-width="0.36" text-anchor="end" x="511.4" y="63.8">15</text>
<line x1="513.4" y1="73.2" x2="517.4" y2="73.2" stroke="#2b2a2b" stroke-width="1.1" />
<text font-size="10.9" stroke="#231f20" stroke-width="0.36" text-anchor="end" x="511.4" y="77.2">10</text>
<line x1="513.4" y1="86.6" x2="517.4" y2="86.6" stroke="#2b2a2b" stroke-width="1.1" />
<text font-size="10.9" stroke="#231f20" stroke-width="0.36" text-anchor="end" x="511.4" y="90.6">5</text>
<line x1="513.4" y1="100.1" x2="517.4" y2="100.1" stroke="#2b2a2b" stroke-width="1.1" />
<text font-size="10.9" stroke="#231f20" stroke-width="0.36" text-anchor="end" x="509.8" y="104.1">0</text>
<line x1="529.2" y1="100.1" x2="529.2" y2="103.8" stroke="#2b2a2b" stroke-width="1.1" />
<text font-size="10.7" stroke="#231f20" stroke-width="0.36" text-anchor="middle" x="529.2" y="114">V</text>
<line x1="550.9" y1="100.1" x2="550.9" y2="103.8" stroke="#2b2a2b" stroke-width="1.1" />
<text font-size="10.7" stroke="#231f20" stroke-width="0.36" text-anchor="middle" x="550.9" y="114">S</text>
<line x1="572.7" y1="100.1" x2="572.7" y2="103.8" stroke="#2b2a2b" stroke-width="1.1" />
<text font-size="10.7" stroke="#231f20" stroke-width="0.36" text-anchor="middle" x="572.7" y="114">R</text>
<line x1="599.8" y1="100.1" x2="599.8" y2="103.8" stroke="#2b2a2b" stroke-width="1.1" />
<text font-size="10.7" stroke="#231f20" stroke-width="0.36" text-anchor="middle" x="599.8" y="114">V</text>
<line x1="621.5" y1="100.1" x2="621.5" y2="103.8" stroke="#2b2a2b" stroke-width="1.1" />
<text font-size="10.7" stroke="#231f20" stroke-width="0.36" text-anchor="middle" x="621.5" y="114">S</text>
<line x1="643.3" y1="100.1" x2="643.3" y2="103.8" stroke="#2b2a2b" stroke-width="1.1" />
<text font-size="10.7" stroke="#231f20" stroke-width="0.36" text-anchor="middle" x="643.3" y="114">R</text>
<line x1="586.3" y1="32.5" x2="586.3" y2="100.1" stroke="#3a3a3c" stroke-width="1.2" stroke-dasharray="1 0.8"/>
<line x1="522.2" y1="31.9" x2="544.6" y2="31.9" stroke="#2b2a2b" stroke-width="1.2" />
<line x1="550.4" y1="31.9" x2="571.8" y2="31.9" stroke="#2b2a2b" stroke-width="1.2" />
<text font-size="8.8" stroke="#231f20" stroke-width="0.35" text-anchor="middle" font-weight="bold" x="532.2" y="31.2">*</text>
<text font-size="8.8" stroke="#231f20" stroke-width="0.35" text-anchor="middle" font-weight="bold" x="562.5" y="31.2" letter-spacing="1.1">**</text>
</g>
<g id="panel_d">
<text font-size="12.2" stroke="#231f20" stroke-width="0.55" textLength="7.2" lengthAdjust="spacingAndGlyphs" font-weight="bold" x="472.4" y="135">D</text>
<text font-size="11.02" stroke="#231f20" stroke-width="0.36" textLength="92.4" lengthAdjust="spacingAndGlyphs" x="540.3" y="135.6">Sag &gt; 10% of peak</text>
<text font-size="10.82" stroke="#231f20" stroke-width="0.36" textLength="55.4" lengthAdjust="spacingAndGlyphs" transform="translate(494.9,200) rotate(-90)">Neuron (%)</text>
<rect x="522.8" y="162.6" width="14.2" height="44.5" fill="#62b2ce" stroke="none" stroke-width="1" />
<text font-size="8.74" stroke="#231f20" stroke-width="0.17" textLength="21.4" lengthAdjust="spacingAndGlyphs" x="519.4" y="160.8">21/32</text>
<line x1="529.9" y1="207.1" x2="529.9" y2="210.4" stroke="#2b2a2b" stroke-width="1.1" />
<text font-size="10.8" stroke="#231f20" stroke-width="0.36" text-anchor="middle" x="529.9" y="220">V</text>
<rect x="544.8" y="148.3" width="14.2" height="58.8" fill="#1e5865" stroke="none" stroke-width="1" />
<text font-size="8.74" stroke="#231f20" stroke-width="0.17" textLength="20.8" lengthAdjust="spacingAndGlyphs" x="541.4" y="146.8">28/32</text>
<line x1="551.9" y1="207.1" x2="551.9" y2="210.4" stroke="#2b2a2b" stroke-width="1.1" />
<text font-size="10.8" stroke="#231f20" stroke-width="0.36" text-anchor="middle" x="551.9" y="220">S</text>
<rect x="566.5" y="165.8" width="14.1" height="41.3" fill="#2e86b8" stroke="none" stroke-width="1" />
<text font-size="8.74" stroke="#231f20" stroke-width="0.17" textLength="20.8" lengthAdjust="spacingAndGlyphs" x="563.4" y="163.8">23/37</text>
<line x1="573.55" y1="207.1" x2="573.55" y2="210.4" stroke="#2b2a2b" stroke-width="1.1" />
<text font-size="10.8" stroke="#231f20" stroke-width="0.36" text-anchor="middle" x="573.55" y="220">R</text>
<rect x="593.5" y="181.8" width="14.3" height="25.3" fill="#e08e8d" stroke="none" stroke-width="1" />
<text font-size="8.74" stroke="#231f20" stroke-width="0.17" textLength="20" lengthAdjust="spacingAndGlyphs" x="589.7" y="180">12/31</text>
<line x1="600.65" y1="207.1" x2="600.65" y2="210.4" stroke="#2b2a2b" stroke-width="1.1" />
<text font-size="10.8" stroke="#231f20" stroke-width="0.36" text-anchor="middle" x="600.65" y="220">V</text>
<rect x="615.2" y="179.3" width="14.1" height="27.8" fill="#7b2e25" stroke="none" stroke-width="1" />
<text font-size="8.74" stroke="#231f20" stroke-width="0.17" textLength="20.8" lengthAdjust="spacingAndGlyphs" x="611.5" y="174.6">14/33</text>
<line x1="622.25" y1="207.1" x2="622.25" y2="210.4" stroke="#2b2a2b" stroke-width="1.1" />
<text font-size="10.8" stroke="#231f20" stroke-width="0.36" text-anchor="middle" x="622.25" y="220">S</text>
<rect x="637" y="183.3" width="14.1" height="23.8" fill="#ce5a2f" stroke="none" stroke-width="1" />
<text font-size="8.74" stroke="#231f20" stroke-width="0.17" textLength="20.6" lengthAdjust="spacingAndGlyphs" x="633.5" y="180.8">10/28</text>
<line x1="644.05" y1="207.1" x2="644.05" y2="210.4" stroke="#2b2a2b" stroke-width="1.1" />
<text font-size="10.8" stroke="#231f20" stroke-width="0.36" text-anchor="middle" x="644.05" y="220">R</text>
<line x1="517.8" y1="140.15" x2="517.8" y2="207.54999999999998" stroke="#2b2a2b" stroke-width="1.1" />
<line x1="513.8" y1="207.1" x2="656.2" y2="207.1" stroke="#2b2a2b" stroke-width="1.1" />
<line x1="513.8" y1="140.6" x2="517.8" y2="140.6" stroke="#2b2a2b" stroke-width="1.1" />
<text font-size="10.9" stroke="#231f20" stroke-width="0.36" text-anchor="end" x="511.5" y="144.2">100</text>
<line x1="513.8" y1="153.9" x2="517.8" y2="153.9" stroke="#2b2a2b" stroke-width="1.1" />
<text font-size="10.9" stroke="#231f20" stroke-width="0.36" text-anchor="end" x="511.5" y="157.5">80</text>
<line x1="513.8" y1="167.2" x2="517.8" y2="167.2" stroke="#2b2a2b" stroke-width="1.1" />
<text font-size="10.9" stroke="#231f20" stroke-width="0.36" text-anchor="end" x="511.5" y="170.8">60</text>
<line x1="513.8" y1="180.5" x2="517.8" y2="180.5" stroke="#2b2a2b" stroke-width="1.1" />
<text font-size="10.9" stroke="#231f20" stroke-width="0.36" text-anchor="end" x="511.5" y="184.1">40</text>
<line x1="513.8" y1="193.8" x2="517.8" y2="193.8" stroke="#2b2a2b" stroke-width="1.1" />
<text font-size="10.9" stroke="#231f20" stroke-width="0.36" text-anchor="end" x="511.5" y="197.4">20</text>
<line x1="513.8" y1="207.1" x2="517.8" y2="207.1" stroke="#2b2a2b" stroke-width="1.1" />
<text font-size="10.9" stroke="#231f20" stroke-width="0.36" text-anchor="end" x="511.5" y="210.7">0</text>
<line x1="587" y1="140" x2="587" y2="206.9" stroke="#3a3a3c" stroke-width="1.2" stroke-dasharray="1 0.8"/>
</g>
<g id="panel_e">
<defs><filter id="bl" x="-20%" y="-20%" width="140%" height="140%" color-interpolation-filters="sRGB"><feTurbulence type="fractalNoise" baseFrequency="0.2" numOctaves="2" seed="7" result="n"/><feDisplacementMap in="SourceGraphic" in2="n" scale="6.5" xChannelSelector="R" yChannelSelector="G" result="d"/><feGaussianBlur in="d" stdDeviation="0.85"/></filter><filter id="spr" x="0" y="0" width="100%" height="100%" color-interpolation-filters="sRGB"><feTurbulence type="fractalNoise" baseFrequency="0.55" numOctaves="2" seed="11"/><feColorMatrix type="matrix" values="0 0 0 0 0.6  0 0 0 0 0.03  0 0 0 0 0.1  4.2 0 0 0 -2.62"/><feGaussianBlur stdDeviation="0.35"/></filter><filter id="spb" x="0" y="0" width="100%" height="100%" color-interpolation-filters="sRGB"><feTurbulence type="fractalNoise" baseFrequency="0.55" numOctaves="2" seed="23"/><feColorMatrix type="matrix" values="0 0 0 0 0.12  0 0 0 0 0.1  0 0 0 0 0.42  4.2 0 0 0 -2.78"/><feGaussianBlur stdDeviation="0.35"/></filter></defs>
<text font-size="12.2" stroke="#231f20" stroke-width="0.55" textLength="6.2" lengthAdjust="spacingAndGlyphs" font-weight="bold" x="28.2" y="250">E</text>
<text font-size="9.98" stroke="#231f20" stroke-width="0.27" textLength="40.4" lengthAdjust="spacingAndGlyphs" x="55.8" y="250">Virgin (V)</text>
<text font-size="9.98" stroke="#231f20" stroke-width="0.27" textLength="50.8" lengthAdjust="spacingAndGlyphs" x="114.3" y="250">Satiated (S)</text>
<text font-size="9.98" stroke="#231f20" stroke-width="0.27" textLength="63.2" lengthAdjust="spacingAndGlyphs" x="173.8" y="250">Recovered (R)</text>
<text transform="translate(44.6,309) rotate(-90)" font-size="9.6" textLength="49.6" lengthAdjust="spacingAndGlyphs"><tspan fill="#dc4650" stroke="#dc4650" stroke-width="0.2" font-style="italic">Esr2</tspan><tspan stroke="#231f20" stroke-width="0.2"> / </tspan><tspan fill="#4a62b4" stroke="#4a62b4" stroke-width="0.2">DAPI</tspan></text>
<text transform="translate(44.6,378.8) rotate(-90)" font-size="9.6" textLength="52.6" lengthAdjust="spacingAndGlyphs"><tspan fill="#52b848" stroke="#52b848" stroke-width="0.2" font-style="italic">Hcn1</tspan><tspan stroke="#231f20" stroke-width="0.2"> / </tspan><tspan fill="#4a62b4" stroke="#4a62b4" stroke-width="0.2">DAPI</tspan></text>
<clipPath id="ci1"><rect x="47.3" y="254.0" width="56.1" height="62.7"/></clipPath><rect x="47.3" y="254.0" width="56.1" height="62.7" fill="#040208"/><rect x="47.3" y="254.0" width="56.1" height="62.7" fill="#000" filter="url(#spr)"/><g clip-path="url(#ci1)"><g filter="url(#bl)"><ellipse cx="72.5" cy="286.4" rx="22.5" ry="14.6" fill="#3a3aa8" transform="rotate(8 72 286)"/><ellipse cx="71" cy="285.6" rx="21.5" ry="13.8" fill="#ee3484" transform="rotate(10 71 286)"/><ellipse cx="73" cy="285" rx="15" ry="7.5" fill="#b858c0" opacity="0.85" transform="rotate(12 73 285)"/><ellipse cx="62" cy="285.5" rx="6" ry="5" fill="#c052b8" opacity="0.7"/><ellipse cx="73.6" cy="286.2" rx="4.6" ry="3.2" fill="#3048a8" transform="rotate(25 73.6 286.2)"/><ellipse cx="91.5" cy="288" rx="3" ry="6" fill="#3446b4" opacity="0.9"/><ellipse cx="78" cy="298" rx="8" ry="4.4" fill="#f52a5a"/><ellipse cx="55" cy="281" rx="3.4" ry="3" fill="#f8325e"/><ellipse cx="64.8" cy="261.8" rx="1.8" ry="3" fill="#f52a2a" opacity="1"/><ellipse cx="65.4" cy="266" rx="2.6" ry="1.6" fill="#f52a2a" opacity="1"/><ellipse cx="100.9" cy="289.5" rx="3.2" ry="7.2" fill="#f52a2a" opacity="1"/><ellipse cx="97.4" cy="300.6" rx="3.8" ry="3.2" fill="#f52a2a" opacity="1"/><ellipse cx="54.1" cy="302.6" rx="3" ry="2.8" fill="#f52a2a" opacity="1"/><ellipse cx="101.5" cy="254.6" rx="2.2" ry="1.4" fill="#f52a2a" opacity="1"/><ellipse cx="91.8" cy="275.8" rx="1.6" ry="2" fill="#f52a2a" opacity="1"/></g></g>
<clipPath id="ci2"><rect x="111.4" y="254.0" width="56.0" height="62.7"/></clipPath><rect x="111.4" y="254.0" width="56.0" height="62.7" fill="#040208"/><rect x="111.4" y="254.0" width="56.0" height="62.7" fill="#000" filter="url(#spr)"/><g clip-path="url(#ci2)"><g filter="url(#bl)"><path d="M139,253 L168,253 L168,258 L152,264.5 Z" fill="#1c2878"/><ellipse cx="119.8" cy="265" rx="3.8" ry="3" fill="#f52a2a" opacity="1"/><ellipse cx="130.2" cy="263.2" rx="3.6" ry="3.4" fill="#f52a2a" opacity="1"/><ellipse cx="132.4" cy="271" rx="4" ry="4.4" fill="#f52a2a" opacity="1"/><ellipse cx="141.9" cy="271.5" rx="3" ry="3.6" fill="#f52a2a" opacity="1"/><ellipse cx="150.2" cy="275.6" rx="4.6" ry="3.4" fill="#f52a2a" opacity="1" transform="rotate(25 150.2 275.6)"/><ellipse cx="158.6" cy="277.7" rx="2.6" ry="2.2" fill="#f52a2a" opacity="1"/><ellipse cx="116.3" cy="282.5" rx="1.8" ry="2.2" fill="#f52a2a" opacity="1"/><ellipse cx="145.4" cy="306.1" rx="3" ry="3" fill="#f52a2a" opacity="1"/><ellipse cx="155.1" cy="307.9" rx="3" ry="2.6" fill="#f52a2a" opacity="1"/><ellipse cx="112.8" cy="310.2" rx="2.4" ry="2.8" fill="#f52a2a" opacity="1"/><ellipse cx="155" cy="283" rx="1.6" ry="1.6" fill="#f52a2a" opacity="1"/><ellipse cx="136.4" cy="288.6" rx="16.6" ry="15.6" fill="#4452c6"/><ellipse cx="137.5" cy="289.5" rx="12.5" ry="12" fill="#8a58c0" opacity="0.9"/><ellipse cx="135" cy="285" rx="7" ry="8" fill="#b856b6" opacity="0.9"/><ellipse cx="142" cy="295" rx="7.5" ry="6.5" fill="#b058b8" opacity="0.9"/><ellipse cx="143" cy="283" rx="4" ry="3.4" fill="#4a58c8" opacity="0.9"/><ellipse cx="126" cy="287" rx="3" ry="4" fill="#e44a9c" opacity="0.9"/><ellipse cx="144.5" cy="295.5" rx="2.4" ry="2" fill="#f04898"/></g></g>
<clipPath id="ci3"><rect x="176.3" y="254.0" width="56.9" height="62.7"/></clipPath><rect x="176.3" y="254.0" width="56.9" height="62.7" fill="#040208"/><rect x="176.3" y="254.0" width="56.9" height="62.7" fill="#000" filter="url(#spr)"/><g clip-path="url(#ci3)"><g filter="url(#bl)"><ellipse cx="190.5" cy="253.8" rx="5" ry="1.8" fill="#2c44b4"/><ellipse cx="188.6" cy="272.4" rx="3.4" ry="4.2" fill="#f52a2a" opacity="1"/><ellipse cx="189.4" cy="298.6" rx="3.6" ry="2.6" fill="#f52a2a" opacity="1" transform="rotate(-20 189.4 298.6)"/><ellipse cx="206.8" cy="303.4" rx="4.4" ry="3" fill="#f52a2a" opacity="1"/><ellipse cx="232" cy="279.2" rx="1.8" ry="3" fill="#f52a2a" opacity="1"/><ellipse cx="223.9" cy="298.8" rx="1.4" ry="1.4" fill="#f52a2a" opacity="1"/><ellipse cx="219.5" cy="275" rx="2.4" ry="4" fill="#f52a2a" opacity="1"/><ellipse cx="204.4" cy="281.8" rx="15.8" ry="16.4" fill="#4658c4"/><ellipse cx="205" cy="286" rx="12.5" ry="11" fill="#b658b8" opacity="0.95"/><ellipse cx="210" cy="272.5" rx="8" ry="5.5" fill="#d650a8" opacity="0.9"/><ellipse cx="214" cy="278" rx="5" ry="6" fill="#f24490" opacity="0.85"/><ellipse cx="196.5" cy="275" rx="5" ry="6" fill="#3e5cc4" opacity="0.9"/><ellipse cx="206" cy="280" rx="3.4" ry="4.4" fill="#4458c0" opacity="0.9" transform="rotate(-30 206 280)"/><ellipse cx="217.4" cy="287.6" rx="2.6" ry="3" fill="#f83a4e"/></g></g>
<clipPath id="ci4"><rect x="47.3" y="321.4" width="56.1" height="62.8"/></clipPath><rect x="47.3" y="321.4" width="56.1" height="62.8" fill="#040208"/><rect x="47.3" y="321.4" width="56.1" height="62.8" fill="#000" filter="url(#spb)"/><g clip-path="url(#ci4)"><g filter="url(#bl)"><ellipse cx="72" cy="352.4" rx="23.6" ry="15.6" fill="#2a2466" opacity="0.85" transform="rotate(6 72 352)"/><ellipse cx="72.5" cy="351.6" rx="20.4" ry="12.4" fill="#26389c" transform="rotate(6 72 352)"/><ellipse cx="63" cy="350" rx="7" ry="4.6" fill="#2e58c2"/><ellipse cx="85" cy="351.6" rx="6.4" ry="6" fill="#2c52be"/><ellipse cx="74" cy="355" rx="6" ry="3.4" fill="#28287a" opacity="0.85"/><ellipse cx="77.9" cy="338.6" rx="3.6" ry="3" fill="#5fcf48" opacity="1"/><ellipse cx="78.6" cy="342.6" rx="2.6" ry="3" fill="#5fcf48" opacity="1"/><ellipse cx="85.6" cy="338" rx="3.4" ry="3.2" fill="#5fcf48" opacity="1"/><ellipse cx="93.4" cy="339" rx="3.2" ry="3.6" fill="#5fcf48" opacity="1" transform="rotate(20 93.4 339)"/><ellipse cx="95.4" cy="342.6" rx="3.8" ry="2.2" fill="#5fcf48" opacity="1"/><ellipse cx="60" cy="363.5" rx="3.4" ry="3.2" fill="#5fcf48" opacity="1"/><ellipse cx="69.2" cy="363.6" rx="3.4" ry="2.8" fill="#5fcf48" opacity="1" transform="rotate(-35 69.2 363.6)"/><ellipse cx="66.6" cy="366.8" rx="3" ry="2.6" fill="#5fcf48" opacity="1"/><ellipse cx="90.4" cy="374.8" rx="2.8" ry="2.8" fill="#5fcf48" opacity="1"/><ellipse cx="65.6" cy="322.6" rx="2" ry="1.6" fill="#5fcf48" opacity="1"/><ellipse cx="58.5" cy="325.6" rx="1.2" ry="1.2" fill="#5fcf48" opacity="1"/><ellipse cx="79.2" cy="345.4" rx="1.8" ry="1.8" fill="#4fcfb0" opacity="1"/><ellipse cx="93.2" cy="351.3" rx="2.2" ry="2.4" fill="#4fcfb0" opacity="1"/></g></g>
<clipPath id="ci5"><rect x="111.4" y="321.4" width="56.0" height="62.8"/></clipPath><rect x="111.4" y="321.4" width="56.0" height="62.8" fill="#040208"/><rect x="111.4" y="321.4" width="56.0" height="62.8" fill="#000" filter="url(#spb)"/><g clip-path="url(#ci5)"><g filter="url(#bl)"><path d="M139,321 L168,321 L168,325.5 L153,330 L143,326 Z" fill="#1c2478"/><ellipse cx="126.5" cy="334" rx="8" ry="7" fill="#5fcf48" opacity="1"/><ellipse cx="131" cy="328" rx="3.4" ry="4.4" fill="#5fcf48" opacity="1"/><ellipse cx="115.7" cy="325.6" rx="3.2" ry="3" fill="#5fcf48" opacity="1"/><ellipse cx="114.8" cy="336.8" rx="4.6" ry="4" fill="#5fcf48" opacity="1"/><ellipse cx="133.4" cy="325" rx="3.2" ry="3.6" fill="#5fcf48" opacity="1"/><ellipse cx="140.6" cy="336.4" rx="3.4" ry="5.4" fill="#5fcf48" opacity="1" transform="rotate(30 140.6 336.4)"/><ellipse cx="120" cy="347.6" rx="3.8" ry="6" fill="#5fcf48" opacity="1" transform="rotate(20 120 347.6)"/><ellipse cx="149.8" cy="340" rx="4" ry="3" fill="#5fcf48" opacity="1"/><ellipse cx="155.8" cy="344.8" rx="4" ry="5.4" fill="#5fcf48" opacity="1" transform="rotate(-20 155.8 344.8)"/><ellipse cx="154.6" cy="352.6" rx="3" ry="4" fill="#5fcf48" opacity="1"/><ellipse cx="163.4" cy="332" rx="3" ry="3" fill="#5fcf48" opacity="1"/><ellipse cx="160" cy="358.4" rx="2.4" ry="3.4" fill="#5fcf48" opacity="1"/><ellipse cx="158.6" cy="372.8" rx="3" ry="3" fill="#5fcf48" opacity="1"/><ellipse cx="162.5" cy="369.5" rx="1.8" ry="1.8" fill="#5fcf48" opacity="1"/><ellipse cx="148.6" cy="370.6" rx="3.8" ry="3.8" fill="#5fcf48" opacity="1"/><ellipse cx="124.7" cy="377" rx="3.4" ry="3.4" fill="#5fcf48" opacity="1"/><ellipse cx="164.4" cy="382.2" rx="2.4" ry="2.4" fill="#5fcf48" opacity="1"/><ellipse cx="122.6" cy="362.5" rx="2.2" ry="2.6" fill="#5fcf48" opacity="1"/><ellipse cx="121" cy="340.6" rx="3" ry="3" fill="#5fcf48" opacity="1"/><ellipse cx="136.4" cy="357.6" rx="15.8" ry="15.4" fill="#2848c0"/><ellipse cx="130" cy="354" rx="6.4" ry="4.6" fill="#2236a4" opacity="0.9"/><ellipse cx="137" cy="366.5" rx="6" ry="4.6" fill="#2440b0" opacity="0.9"/><ellipse cx="136" cy="345.6" rx="8.4" ry="3.8" fill="#48bce4" opacity="1"/><ellipse cx="140.6" cy="353.8" rx="3.2" ry="6" fill="#48bce4" opacity="1" transform="rotate(42 140.6 353.8)"/><ellipse cx="126.8" cy="362.6" rx="4.2" ry="2.8" fill="#48bce4" opacity="1" transform="rotate(40 126.8 362.6)"/><ellipse cx="145" cy="366" rx="3.6" ry="3.8" fill="#48bce4" opacity="1"/><ellipse cx="147.8" cy="352" rx="2.4" ry="3.4" fill="#48bce4" opacity="1"/><ellipse cx="131" cy="349.5" rx="3" ry="2.4" fill="#48bce4" opacity="1"/><ellipse cx="148.2" cy="369.6" rx="2.6" ry="2.6" fill="#5fcf48" opacity="1"/><ellipse cx="142.6" cy="342.8" rx="2.4" ry="1.8" fill="#5fcf48" opacity="1"/></g></g>
<clipPath id="ci6"><rect x="176.3" y="321.4" width="56.9" height="62.8"/></clipPath><rect x="176.3" y="321.4" width="56.9" height="62.8" fill="#040208"/><rect x="176.3" y="321.4" width="56.9" height="62.8" fill="#000" filter="url(#spb)"/><g clip-path="url(#ci6)"><g filter="url(#bl)"><ellipse cx="192.8" cy="321.4" rx="5" ry="1.6" fill="#3060d0"/><ellipse cx="194.4" cy="334.5" rx="3.8" ry="3.2" fill="#5cc43c" opacity="1"/><ellipse cx="190" cy="330.5" rx="2" ry="2" fill="#5cc43c" opacity="1"/><ellipse cx="188.7" cy="358.2" rx="3.2" ry="2.6" fill="#5cc43c" opacity="1"/><ellipse cx="203.9" cy="370" rx="3.6" ry="5.6" fill="#5cc43c" opacity="1"/><ellipse cx="202.6" cy="375.5" rx="2.6" ry="3" fill="#5cc43c" opacity="1"/><ellipse cx="195" cy="374.8" rx="2.4" ry="3.4" fill="#5cc43c" opacity="1"/><ellipse cx="224.6" cy="362.7" rx="1.2" ry="0.9" fill="#5cc43c" opacity="1"/><ellipse cx="203.8" cy="349.2" rx="15.2" ry="16.4" fill="#2c50c0"/><ellipse cx="201" cy="346" rx="7" ry="5" fill="#2844ae" opacity="0.9"/><ellipse cx="213.2" cy="345.8" rx="3.6" ry="3.4" fill="#58c078" opacity="1"/><ellipse cx="213.6" cy="354.8" rx="2.2" ry="3.4" fill="#46c4dc" opacity="1" transform="rotate(20 213.6 354.8)"/><ellipse cx="208.4" cy="360.2" rx="2.6" ry="2.4" fill="#46c4dc" opacity="1"/><ellipse cx="198.8" cy="356.2" rx="2.4" ry="2.4" fill="#46c4dc" opacity="1"/><ellipse cx="192" cy="357" rx="1.4" ry="2" fill="#46c4dc" opacity="1"/><ellipse cx="196.5" cy="336" rx="2.4" ry="1.6" fill="#46c4dc" opacity="1"/></g></g>
<rect x="210.1" y="380.2" width="20.8" height="2.3" fill="#ffffff" stroke="none" stroke-width="1" />
<text font-size="10.82" stroke="#231f20" stroke-width="0.36" textLength="82.6" lengthAdjust="spacingAndGlyphs" transform="translate(257.9,351.4) rotate(-90)"><tspan>H-score for </tspan><tspan font-style="italic">Hcn1</tspan></text>
<path d="M297.6,364.1 L297.6,333.3 L313.6,333.3 L313.6,364.1" stroke="#2b2a2b" stroke-width="1.15" fill="#fff" stroke-linejoin="round" />
<path d="M321,364.1 L321,297.5 L337.3,297.5 L337.3,364.1" stroke="#2b2a2b" stroke-width="1.15" fill="#fff" stroke-linejoin="round" />
<path d="M344.8,364.1 L344.8,334.3 L360.6,334.3 L360.6,364.1" stroke="#2b2a2b" stroke-width="1.15" fill="#fff" stroke-linejoin="round" />
<circle cx="305.6" cy="321.3" r="2.1" fill="none" stroke="#7ec3dc" stroke-width="1.0" />
<circle cx="309.6" cy="328.3" r="2.1" fill="none" stroke="#7ec3dc" stroke-width="1.0" />
<circle cx="304.2" cy="331.5" r="2.1" fill="none" stroke="#7ec3dc" stroke-width="1.0" />
<circle cx="305.6" cy="351" r="2.1" fill="none" stroke="#7ec3dc" stroke-width="1.0" />
<circle cx="324.8" cy="284.2" r="2.45" fill="#1e5a69" stroke="none" stroke-width="1" />
<circle cx="324.8" cy="293.3" r="2.45" fill="#1e5a69" stroke="none" stroke-width="1" />
<circle cx="329.3" cy="288.7" r="2.1" fill="none" stroke="#3f7686" stroke-width="1.0" />
<circle cx="333.1" cy="307.4" r="2.1" fill="none" stroke="#3f7686" stroke-width="1.0" />
<circle cx="324.8" cy="310.9" r="2.1" fill="none" stroke="#3f7686" stroke-width="1.0" />
<circle cx="329.3" cy="296.6" r="2.1" fill="none" stroke="#3f7686" stroke-width="1.0" />
<circle cx="357.1" cy="329.1" r="2.1" fill="none" stroke="#5a9cc8" stroke-width="1.0" />
<circle cx="357.1" cy="335.5" r="2.1" fill="none" stroke="#5a9cc8" stroke-width="1.0" />
<circle cx="348.3" cy="329" r="2.45" fill="#2f86c0" stroke="none" stroke-width="1" />
<circle cx="348.3" cy="338.8" r="2.45" fill="#2f86c0" stroke="none" stroke-width="1" />
<circle cx="352.6" cy="334.4" r="2.45" fill="#2f86c0" stroke="none" stroke-width="1" />
<line x1="305.6" y1="327.5" x2="305.6" y2="338.1" stroke="#2b2a2b" stroke-width="0.9" /><line x1="301.6" y1="327.5" x2="309.6" y2="327.5" stroke="#2b2a2b" stroke-width="0.9" /><line x1="301.6" y1="338.1" x2="309.6" y2="338.1" stroke="#2b2a2b" stroke-width="0.9" />
<line x1="329.1" y1="292.7" x2="329.1" y2="301.5" stroke="#2b2a2b" stroke-width="0.9" /><line x1="325.1" y1="292.7" x2="333.1" y2="292.7" stroke="#2b2a2b" stroke-width="0.9" /><line x1="325.1" y1="301.5" x2="333.1" y2="301.5" stroke="#2b2a2b" stroke-width="0.9" />
<line x1="352.8" y1="331.5" x2="352.8" y2="336" stroke="#2b2a2b" stroke-width="0.9" /><line x1="348.8" y1="331.5" x2="356.8" y2="331.5" stroke="#2b2a2b" stroke-width="0.9" /><line x1="348.8" y1="336" x2="356.8" y2="336" stroke="#2b2a2b" stroke-width="0.9" />
<line x1="290.9" y1="258.45" x2="290.9" y2="364.55" stroke="#2b2a2b" stroke-width="1.1" />
<line x1="286.9" y1="364.1" x2="364.8" y2="364.1" stroke="#2b2a2b" stroke-width="1.1" />
<line x1="286.9" y1="258.9" x2="290.9" y2="258.9" stroke="#2b2a2b" stroke-width="1.1" />
<text font-size="10.9" stroke="#231f20" stroke-width="0.36" text-anchor="end" x="284.9" y="262.4">400</text>
<line x1="286.9" y1="285.2" x2="290.9" y2="285.2" stroke="#2b2a2b" stroke-width="1.1" />
<text font-size="10.9" stroke="#231f20" stroke-width="0.36" text-anchor="end" x="284.9" y="288.7">350</text>
<line x1="286.9" y1="311.5" x2="290.9" y2="311.5" stroke="#2b2a2b" stroke-width="1.1" />
<text font-size="10.9" stroke="#231f20" stroke-width="0.36" text-anchor="end" x="284.9" y="315.0">300</text>
<line x1="286.9" y1="337.8" x2="290.9" y2="337.8" stroke="#2b2a2b" stroke-width="1.1" />
<text font-size="10.9" stroke="#231f20" stroke-width="0.36" text-anchor="end" x="284.9" y="341.3">250</text>
<line x1="286.9" y1="364.1" x2="290.9" y2="364.1" stroke="#2b2a2b" stroke-width="1.1" />
<text font-size="10.9" stroke="#231f20" stroke-width="0.36" text-anchor="end" x="284.9" y="367.6">200</text>
<line x1="305.6" y1="364.1" x2="305.6" y2="367.40000000000003" stroke="#2b2a2b" stroke-width="1.1" />
<text font-size="10.4" stroke="#231f20" stroke-width="0.36" text-anchor="middle" x="305.6" y="378.2">V</text>
<line x1="329.1" y1="364.1" x2="329.1" y2="367.40000000000003" stroke="#2b2a2b" stroke-width="1.1" />
<text font-size="10.4" stroke="#231f20" stroke-width="0.36" text-anchor="middle" x="329.1" y="378.2">S</text>
<line x1="352.8" y1="364.1" x2="352.8" y2="367.40000000000003" stroke="#2b2a2b" stroke-width="1.1" />
<text font-size="10.4" stroke="#231f20" stroke-width="0.36" text-anchor="middle" x="352.8" y="378.2">R</text>
<line x1="303.2" y1="277.5" x2="327.2" y2="277.5" stroke="#2b2a2b" stroke-width="1.2" />
<line x1="331.7" y1="277.5" x2="355" y2="277.5" stroke="#2b2a2b" stroke-width="1.2" />
<text font-size="8.8" stroke="#231f20" stroke-width="0.35" text-anchor="middle" font-weight="bold" x="315.2" y="277.6">*</text>
<text font-size="8.8" stroke="#231f20" stroke-width="0.35" text-anchor="middle" font-weight="bold" x="343" y="277.6" letter-spacing="1.1">**</text>
<text font-size="9.67" stroke="#231f20" stroke-width="0.27" textLength="40.4" lengthAdjust="spacingAndGlyphs" x="370.8" y="297.8">Post-ejac</text>
<circle cx="373.8" cy="307.4" r="2.0" fill="none" stroke="#47727f" stroke-width="1.0" />
<text font-size="9.88" stroke="#231f20" stroke-width="0.27" textLength="18.4" lengthAdjust="spacingAndGlyphs" x="377.8" y="310.4">24 h</text>
<circle cx="373.8" cy="320.2" r="2.4" fill="#1e5a69" stroke="none" stroke-width="1" />
<text font-size="9.88" stroke="#231f20" stroke-width="0.27" textLength="23.6" lengthAdjust="spacingAndGlyphs" x="377.8" y="323.2">3–5 d</text>
<circle cx="373.8" cy="332.5" r="2.0" fill="none" stroke="#6db0dc" stroke-width="1.0" />
<text font-size="9.88" stroke="#231f20" stroke-width="0.27" textLength="34.2" lengthAdjust="spacingAndGlyphs" x="378.2" y="336.1">10–12 d</text>
<circle cx="373.8" cy="345.1" r="2.4" fill="#2f86c0" stroke="none" stroke-width="1" />
<text font-size="9.88" stroke="#231f20" stroke-width="0.27" textLength="34.2" lengthAdjust="spacingAndGlyphs" x="378.2" y="349">14–16 d</text>
</g>
<g id="panel_f">
<text font-size="12.2" stroke="#231f20" stroke-width="0.55" textLength="5.8" lengthAdjust="spacingAndGlyphs" font-weight="bold" x="28.6" y="407.8">F</text>
<text font-size="11.02" stroke="#f0a552" stroke-width="0.36" textLength="36.4" lengthAdjust="spacingAndGlyphs" fill="#f0a552" x="49.3" y="422.8">sgHcn1</text>
<text font-size="6.2" stroke="#f0a552" stroke-width="0.1" fill="#f0a552" x="86.6" y="425.6">1</text>
<text font-size="11.02" stroke="#f0a552" stroke-width="0.36" textLength="36.4" lengthAdjust="spacingAndGlyphs" fill="#f0a552" x="98.3" y="422.8">sgHcn1</text>
<text font-size="6.2" stroke="#f0a552" stroke-width="0.1" fill="#f0a552" x="135" y="425.8">2</text>
<line x1="36.8" y1="434.54999999999995" x2="221" y2="434.54999999999995" stroke="#6d6e71" stroke-width="0.7" />
<rect x="36.8" y="430.9" width="12.8" height="7.3" fill="#e9e9ea" stroke="#6d6e71" stroke-width="0.8" /><rect x="37.9" y="432.0" width="10.6" height="5.1" fill="#ffffff" stroke="none" stroke-width="1" /><text font-size="7.49" stroke="#231f20" stroke-width="0.15" textLength="9.4" lengthAdjust="spacingAndGlyphs" text-anchor="middle" x="43.2" y="436.7">ITR</text>
<rect x="51.7" y="430.9" width="11.8" height="7.3" fill="#e9e9ea" stroke="#6d6e71" stroke-width="0.8" /><rect x="52.8" y="432.0" width="9.6" height="5.1" fill="#ffffff" stroke="none" stroke-width="1" /><text font-size="7.49" stroke="#231f20" stroke-width="0.15" textLength="8.4" lengthAdjust="spacingAndGlyphs" text-anchor="middle" x="57.6" y="436.7">U6</text>
<path d="M63.5,428.25 L71.4,434.55 L63.5,440.85Z" stroke="#4d4d4f" stroke-width="0.8" fill="#fff" stroke-linejoin="round" />
<line x1="75.6" y1="425.9" x2="75.6" y2="430.9" stroke="#231f20" stroke-width="0.8" />
<rect x="72.2" y="431.0" width="6.8" height="7.1" fill="#f0922b" stroke="none" stroke-width="0.8" />
<rect x="81.7" y="430.9" width="11.9" height="7.3" fill="#e9e9ea" stroke="#6d6e71" stroke-width="0.8" /><rect x="82.8" y="432.0" width="9.7" height="5.1" fill="#ffffff" stroke="none" stroke-width="1" /><text font-size="7.49" stroke="#231f20" stroke-width="0.15" textLength="8.5" lengthAdjust="spacingAndGlyphs" text-anchor="middle" x="87.65" y="436.7">U6</text>
<path d="M93.6,428.25 L101.7,434.55 L93.6,440.85Z" stroke="#4d4d4f" stroke-width="0.8" fill="#fff" stroke-linejoin="round" />
<line x1="106.1" y1="425.9" x2="106.1" y2="430.9" stroke="#231f20" stroke-width="0.8" />
<rect x="102.7" y="431.0" width="6.8" height="7.1" fill="#f0922b" stroke="none" stroke-width="0.8" />
<rect x="111.1" y="430.9" width="18.7" height="7.3" fill="#e9e9ea" stroke="#6d6e71" stroke-width="0.8" /><rect x="112.2" y="432.0" width="16.5" height="5.1" fill="#ffffff" stroke="none" stroke-width="1" /><text font-size="7.49" stroke="#231f20" stroke-width="0.15" textLength="15.3" lengthAdjust="spacingAndGlyphs" text-anchor="middle" x="120.45" y="436.7">EF1a</text>
<path d="M130,428.25 L138.4,434.55 L130,440.85Z" stroke="#4d4d4f" stroke-width="0.8" fill="#fff" stroke-linejoin="round" />
<path d="M139.3,430.9 L167.8,430.9 L167.8,428.05 L175.4,434.55 L167.8,441.05 L167.8,438.2 L139.3,438.2Z" stroke="none" stroke-width="1" fill="#e0656b" stroke-linejoin="round" /><text font-size="7.49" stroke="#4a2c2e" stroke-width="0" textLength="26.7" lengthAdjust="spacingAndGlyphs" fill="#4a2c2e" x="140.5" y="436.6">mCherry</text>
<rect x="176.2" y="430.9" width="21.9" height="7.3" fill="#e9e9ea" stroke="#6d6e71" stroke-width="0.8" /><rect x="177.3" y="432.0" width="19.7" height="5.1" fill="#ffffff" stroke="none" stroke-width="1" /><text font-size="7.49" stroke="#231f20" stroke-width="0.15" textLength="18.5" lengthAdjust="spacingAndGlyphs" text-anchor="middle" x="187.15" y="436.7">WPRE</text>
<path d="M198.1,428.25 L207,434.55 L198.1,440.85Z" stroke="#4d4d4f" stroke-width="0.8" fill="#fff" stroke-linejoin="round" />
<rect x="207.4" y="430.9" width="13.6" height="7.3" fill="#e9e9ea" stroke="#6d6e71" stroke-width="0.8" /><rect x="208.5" y="432.0" width="11.4" height="5.1" fill="#ffffff" stroke="none" stroke-width="1" /><text font-size="7.49" stroke="#231f20" stroke-width="0.15" textLength="10.2" lengthAdjust="spacingAndGlyphs" text-anchor="middle" x="214.2" y="436.7">ITR</text>
<text font-size="12.48" stroke="#231f20" stroke-width="0.36" textLength="104.4" lengthAdjust="spacingAndGlyphs" font-style="italic" x="46.9" y="458.5">Esr2-Cre:LSL-Cas9</text>
<text font-size="11.44" stroke="#231f20" stroke-width="0.36" textLength="28.6" lengthAdjust="spacingAndGlyphs" x="59.9" y="475.6">sgCtrl</text>
<line x1="36.8" y1="487.04999999999995" x2="190.3" y2="487.04999999999995" stroke="#6d6e71" stroke-width="0.7" />
<rect x="36.8" y="483.4" width="12.8" height="7.3" fill="#e9e9ea" stroke="#6d6e71" stroke-width="0.8" /><rect x="37.9" y="484.5" width="10.6" height="5.1" fill="#ffffff" stroke="none" stroke-width="1" /><text font-size="7.49" stroke="#231f20" stroke-width="0.15" textLength="9.4" lengthAdjust="spacingAndGlyphs" text-anchor="middle" x="43.2" y="489.2">ITR</text>
<rect x="51.7" y="483.4" width="11.8" height="7.3" fill="#e9e9ea" stroke="#6d6e71" stroke-width="0.8" /><rect x="52.8" y="484.5" width="9.6" height="5.1" fill="#ffffff" stroke="none" stroke-width="1" /><text font-size="7.49" stroke="#231f20" stroke-width="0.15" textLength="8.4" lengthAdjust="spacingAndGlyphs" text-anchor="middle" x="57.6" y="489.2">U6</text>
<path d="M63.5,480.75 L71.4,487.05 L63.5,493.35Z" stroke="#4d4d4f" stroke-width="0.8" fill="#fff" stroke-linejoin="round" />
<line x1="76.4" y1="478.4" x2="76.4" y2="483.4" stroke="#231f20" stroke-width="0.8" />
<rect x="73" y="483.5" width="6.8" height="7.1" fill="#fff" stroke="#6d6e71" stroke-width="0.8" />
<rect x="81.7" y="483.4" width="18.7" height="7.3" fill="#e9e9ea" stroke="#6d6e71" stroke-width="0.8" /><rect x="82.8" y="484.5" width="16.5" height="5.1" fill="#ffffff" stroke="none" stroke-width="1" /><text font-size="7.49" stroke="#231f20" stroke-width="0.15" textLength="15.3" lengthAdjust="spacingAndGlyphs" text-anchor="middle" x="91.05" y="489.2">EF1a</text>
<path d="M100.4,480.75 L108.4,487.05 L100.4,493.35Z" stroke="#4d4d4f" stroke-width="0.8" fill="#fff" stroke-linejoin="round" />
<path d="M109.3,483.4 L137.8,483.4 L137.8,480.55 L145.5,487.05 L137.8,493.55 L137.8,490.7 L109.3,490.7Z" stroke="none" stroke-width="1" fill="#e0656b" stroke-linejoin="round" /><text font-size="7.49" stroke="#4a2c2e" stroke-width="0" textLength="26.7" lengthAdjust="spacingAndGlyphs" fill="#4a2c2e" x="110.5" y="489.1">mCherry</text>
<rect x="146" y="483.4" width="22.3" height="7.3" fill="#e9e9ea" stroke="#6d6e71" stroke-width="0.8" /><rect x="147.1" y="484.5" width="20.1" height="5.1" fill="#ffffff" stroke="none" stroke-width="1" /><text font-size="7.49" stroke="#231f20" stroke-width="0.15" textLength="18.9" lengthAdjust="spacingAndGlyphs" text-anchor="middle" x="157.15" y="489.2">WPRE</text>
<path d="M168.3,480.75 L176.7,487.05 L168.3,493.35Z" stroke="#4d4d4f" stroke-width="0.8" fill="#fff" stroke-linejoin="round" />
<rect x="177" y="483.4" width="13.3" height="7.3" fill="#e9e9ea" stroke="#6d6e71" stroke-width="0.8" /><rect x="178.1" y="484.5" width="11.1" height="5.1" fill="#ffffff" stroke="none" stroke-width="1" /><text font-size="7.49" stroke="#231f20" stroke-width="0.15" textLength="9.9" lengthAdjust="spacingAndGlyphs" text-anchor="middle" x="183.65" y="489.2">ITR</text>
<path d="M231.5,456.6 C230,454 226,452.3 221,452.2 C213,452.4 205.5,457.6 201.4,465.7 C198.6,471.4 198,478 200.6,484.2 C203.4,490.4 209.6,493.4 217,494.2 C222,494.7 227,494.5 231.5,494.2 C236,494.5 241,494.7 246,494.2 C253.4,493.4 259.6,490.4 262.4,484.2 C265,478 264.4,471.4 261.6,465.7 C257.5,457.6 250,452.4 242,452.2 C237,452.3 233,454 231.5,456.6 Z" fill="#fff" stroke="#5b5052" stroke-width="0.6"/>
<line x1="231.1" y1="456.6" x2="231.1" y2="463.6" stroke="#5b5052" stroke-width="0.4" />
<line x1="231.9" y1="456.6" x2="231.9" y2="463.6" stroke="#5b5052" stroke-width="0.4" />
<line x1="231.5" y1="481.5" x2="231.5" y2="493.6" stroke="#5b5052" stroke-width="0.5" />
<path d="M230.5,464 C226.5,463 219.5,463.6 214.5,466 C208.5,469 205.9,476 208.5,482 C210.5,486 214.5,486.8 217.5,485" fill="none" stroke="#5b5052" stroke-width="0.95"/>
<path d="M229.5,466.4 C226.5,466 224.0,468 224.3,472 C224.5,476 222.9,479 220.9,480.6" fill="none" stroke="#5b5052" stroke-width="0.6"/>
<path d="M222.5,474.6 C220.5,474 219.5,476.6 221.1,478.4 C222.5,479 223.5,477 222.5,474.6Z" fill="#fff" stroke="#5b5052" stroke-width="0.5"/>
<path d="M228.5,479.4 C228.9,476 230.7,475.4 231.5,475.4" fill="none" stroke="#5b5052" stroke-width="0.6"/>
<path d="M228.5,479.4 L228.3,481.4 L231.5,481.6" fill="none" stroke="#5b5052" stroke-width="0.6"/>
<path d="M232.5,464 C236.5,463 243.5,463.6 248.5,466 C254.5,469 257.1,476 254.5,482 C252.5,486 248.5,486.8 245.5,485" fill="none" stroke="#5b5052" stroke-width="0.95"/>
<path d="M233.5,466.4 C236.5,466 239.0,468 238.7,472 C238.5,476 240.1,479 242.1,480.6" fill="none" stroke="#5b5052" stroke-width="0.6"/>
<path d="M240.5,474.6 C242.5,474 243.5,476.6 241.9,478.4 C240.5,479 239.5,477 240.5,474.6Z" fill="#fff" stroke="#5b5052" stroke-width="0.5"/>
<path d="M234.5,479.4 C234.1,476 232.3,475.4 231.5,475.4" fill="none" stroke="#5b5052" stroke-width="0.6"/>
<path d="M234.5,479.4 L234.7,481.4 L231.5,481.6" fill="none" stroke="#5b5052" stroke-width="0.6"/>
<ellipse cx="226.7" cy="484.5" rx="1.35" ry="3.3" fill="#df5259" transform="rotate(-24 226.7 484.5)"/>
<ellipse cx="236.2" cy="484.5" rx="1.35" ry="3.3" fill="#df5259" transform="rotate(24 236.2 484.5)"/>
<ellipse cx="224.9" cy="479.6" rx="0.9" ry="1.7" fill="#e4747a" transform="rotate(-28 224.9 479.6)"/>
<ellipse cx="238.3" cy="479.6" rx="0.9" ry="1.7" fill="#e4747a" transform="rotate(28 238.3 479.6)"/>
<line x1="224.6" y1="452" x2="224.6" y2="478.2" stroke="#3e3638" stroke-width="0.75" />
<line x1="225.79999999999998" y1="452" x2="225.79999999999998" y2="476" stroke="#9a9496" stroke-width="0.4" />
<rect x="223.0" y="443.2" width="3.2" height="9" fill="#df5259" stroke="#3a3436" stroke-width="0.55" />
<rect x="223.3" y="443.5" width="2.6" height="1.8" fill="#f3c4c6" stroke="none" stroke-width="1" />
<rect x="222.1" y="441.5" width="5" height="1.5" fill="#2a2628" stroke="none" stroke-width="1" />
<rect x="224.0" y="438" width="1.2" height="3.6" fill="#2a2628" stroke="none" stroke-width="1" />
<rect x="223.3" y="437.8" width="2.6" height="0.9" fill="#2a2628" stroke="none" stroke-width="1" />
<line x1="238.1" y1="452" x2="238.1" y2="478.2" stroke="#3e3638" stroke-width="0.75" />
<line x1="239.29999999999998" y1="452" x2="239.29999999999998" y2="476" stroke="#9a9496" stroke-width="0.4" />
<rect x="236.5" y="443.2" width="3.2" height="9" fill="#df5259" stroke="#3a3436" stroke-width="0.55" />
<rect x="236.8" y="443.5" width="2.6" height="1.8" fill="#f3c4c6" stroke="none" stroke-width="1" />
<rect x="235.6" y="441.5" width="5" height="1.5" fill="#2a2628" stroke="none" stroke-width="1" />
<rect x="237.5" y="438" width="1.2" height="3.6" fill="#2a2628" stroke="none" stroke-width="1" />
<rect x="236.8" y="437.8" width="2.6" height="0.9" fill="#2a2628" stroke="none" stroke-width="1" />
</g>
<g id="panel_g">
<text font-size="12.2" stroke="#231f20" stroke-width="0.55" textLength="7.2" lengthAdjust="spacingAndGlyphs" font-weight="bold" x="423.2" y="250.2">G</text>
<path d="M438.4,256.4 L438.4,274.2 L487.1,274.2 L487.1,256.4" stroke="#5a5052" stroke-width="1.1" fill="none" stroke-linejoin="round" />
<g transform="translate(434,248) scale(0.09827)">
<path d="M352,146 C362,132 378,124 394,126 C406,122 422,122 432,128 C442,132 448,142 444,152 C440,162 430,166 424,172 C416,184 410,198 412,212 C414,224 420,232 422,240 L396,241 C390,236 384,232 376,233 L350,236 L318,233 L286,229 L258,226 L246,216 C270,206 296,198 312,190 C330,176 342,160 352,146 Z" fill="#ffffff" stroke="#8d8d90" stroke-width="6"/>
<circle cx="386" cy="146" r="12" fill="#fff" stroke="#9a9a9d" stroke-width="5"/>
<path d="M250,222 L300,232 M380,238 L420,240" stroke="#a9a9ac" stroke-width="7" fill="none"/>
<circle cx="428" cy="140" r="3" fill="#555"/>
<path d="M186,244 C172,232 164,206 166,178 C170,152 190,132 216,124 C232,120 248,120 260,116 C268,108 278,98 292,95 C306,90 326,92 344,98 C356,96 368,102 372,112 C374,122 368,130 358,138 C348,150 338,166 326,182 C320,192 314,202 318,214 C308,220 294,218 282,214 C272,220 260,226 246,230 C236,234 224,230 214,232 C206,238 198,244 186,244 Z" fill="#2b80c2"/>
<ellipse cx="294" cy="112" rx="13" ry="10" fill="#1d66a6"/>
<path d="M182,238 C176,244 180,250 196,246" stroke="#2b80c2" stroke-width="6" fill="none"/>
</g>
<path d="M489.2,254 C486.6,253 483.8,254.4 482.4,256.6" fill="none" stroke="#6d6e71" stroke-width="0.7"/>
<path d="M480.6,255 L481.2,258 L484,256.6 Z" fill="#231f20"/>
<text font-size="11.2" stroke="#231f20" stroke-width="0" x="490.1" y="260.1" font-family="DejaVu Sans, sans-serif">♀</text>
<text font-size="10.82" stroke="#231f20" stroke-width="0.36" textLength="14.6" lengthAdjust="spacingAndGlyphs" x="438.9" y="288.1">d1:</text>
<text font-size="10.82" stroke="#231f20" stroke-width="0.36" textLength="37.6" lengthAdjust="spacingAndGlyphs" x="438.9" y="300.6">multiple</text>
<text font-size="12.6" stroke="#231f20" stroke-width="0" x="479.6" y="302.2" font-family="DejaVu Sans, sans-serif">♀</text>
<text font-size="10.82" stroke="#231f20" stroke-width="0.36" textLength="68.8" lengthAdjust="spacingAndGlyphs" x="438.9" y="313.4">(until satiated)</text>
<text font-size="10.82" stroke="#231f20" stroke-width="0.36" textLength="26.2" lengthAdjust="spacingAndGlyphs" x="439.5" y="331.3">d2–7:</text>
<text font-size="10.82" stroke="#231f20" stroke-width="0.36" textLength="14.4" lengthAdjust="spacingAndGlyphs" x="440.5" y="343.9">1 x</text>
<text font-size="12.2" stroke="#231f20" stroke-width="0" x="458.6" y="345" font-family="DejaVu Sans, sans-serif">♀</text>
<text font-size="10.82" stroke="#231f20" stroke-width="0.36" textLength="23.2" lengthAdjust="spacingAndGlyphs" x="468.4" y="343.9">/ day</text>
<circle cx="442.1" cy="362" r="2.4" fill="#0a0a0a" stroke="#d48a3a" stroke-width="0.7" />
<circle cx="452.1" cy="362" r="2.75" fill="#0a0a0a" stroke="none" stroke-width="1" />
<text font-size="10.82" stroke="#231f20" stroke-width="0.36" textLength="21.2" lengthAdjust="spacingAndGlyphs" x="458.7" y="364.7">With</text>
<circle cx="442.1" cy="373.9" r="2.3" fill="#fff" stroke="#eea45c" stroke-width="1.0" />
<circle cx="452.1" cy="373.9" r="2.25" fill="#fff" stroke="#5a5a5d" stroke-width="1.0" />
<text font-size="10.82" stroke="#231f20" stroke-width="0.36" textLength="44.6" lengthAdjust="spacingAndGlyphs" x="458.7" y="377.4">W/O ejac</text>
<text font-size="9.98" stroke="#231f20" stroke-width="0.27" textLength="18.6" lengthAdjust="spacingAndGlyphs" x="523.8" y="262.1">Test</text>
<text font-size="9.98" stroke="#231f20" stroke-width="0.27" textLength="29.8" lengthAdjust="spacingAndGlyphs" x="519.5" y="272.2">day (d)</text>
<text font-size="11.44" stroke="#231f20" stroke-width="0.36" textLength="29.2" lengthAdjust="spacingAndGlyphs" x="562" y="263.8">sgCtrl</text>
<text font-size="11.44" stroke="#f0a552" stroke-width="0.36" textLength="36.8" lengthAdjust="spacingAndGlyphs" fill="#f0a552" x="605.3" y="263.8">sgHcn1</text>
<line x1="557.8" y1="268.8" x2="595.3" y2="268.8" stroke="#3a3a3c" stroke-width="0.95" />
<line x1="557.8" y1="268.4" x2="557.8" y2="272.9" stroke="#3a3a3c" stroke-width="0.95" />
<line x1="565.3" y1="268.4" x2="565.3" y2="272.9" stroke="#3a3a3c" stroke-width="0.95" />
<line x1="572.8" y1="268.4" x2="572.8" y2="272.9" stroke="#3a3a3c" stroke-width="0.95" />
<line x1="580.3" y1="268.4" x2="580.3" y2="272.9" stroke="#3a3a3c" stroke-width="0.95" />
<line x1="587.8" y1="268.4" x2="587.8" y2="272.9" stroke="#3a3a3c" stroke-width="0.95" />
<line x1="595.3" y1="268.4" x2="595.3" y2="272.9" stroke="#3a3a3c" stroke-width="0.95" />
<line x1="606" y1="268.8" x2="643.5" y2="268.8" stroke="#3a3a3c" stroke-width="0.95" />
<line x1="606" y1="268.4" x2="606" y2="272.9" stroke="#3a3a3c" stroke-width="0.95" />
<line x1="613.5" y1="268.4" x2="613.5" y2="272.9" stroke="#3a3a3c" stroke-width="0.95" />
<line x1="621" y1="268.4" x2="621" y2="272.9" stroke="#3a3a3c" stroke-width="0.95" />
<line x1="628.5" y1="268.4" x2="628.5" y2="272.9" stroke="#3a3a3c" stroke-width="0.95" />
<line x1="636" y1="268.4" x2="636" y2="272.9" stroke="#3a3a3c" stroke-width="0.95" />
<line x1="643.5" y1="268.4" x2="643.5" y2="272.9" stroke="#3a3a3c" stroke-width="0.95" />
<line x1="517.2" y1="275" x2="551.7" y2="275" stroke="#3a3a3c" stroke-width="1.0" />
<line x1="551.7" y1="253" x2="551.7" y2="376.4" stroke="#3a3a3c" stroke-width="1.0" />
<line x1="517.2" y1="376.3" x2="648" y2="376.3" stroke="#3a3436" stroke-width="0.9" />
<line x1="552" y1="275.2" x2="648" y2="275.2" stroke="#77777a" stroke-width="0.85" stroke-dasharray="1.5 1.1"/>
<line x1="517.2" y1="307" x2="648" y2="307" stroke="#77777a" stroke-width="0.85" stroke-dasharray="1.5 1.1"/>
<line x1="517.2" y1="318.5" x2="648" y2="318.5" stroke="#77777a" stroke-width="0.85" stroke-dasharray="1.5 1.1"/>
<line x1="517.2" y1="330.2" x2="648" y2="330.2" stroke="#77777a" stroke-width="0.85" stroke-dasharray="1.5 1.1"/>
<line x1="517.2" y1="341.7" x2="648" y2="341.7" stroke="#77777a" stroke-width="0.85" stroke-dasharray="1.5 1.1"/>
<line x1="517.2" y1="353.2" x2="648" y2="353.2" stroke="#77777a" stroke-width="0.85" stroke-dasharray="1.5 1.1"/>
<line x1="517.2" y1="364.7" x2="648" y2="364.7" stroke="#77777a" stroke-width="0.85" stroke-dasharray="1.5 1.1"/>
<text font-size="9.9" stroke="#231f20" stroke-width="0.3" text-anchor="middle" x="532.4" y="294.5">1</text>
<text font-size="9.9" stroke="#231f20" stroke-width="0.3" text-anchor="middle" x="532.4" y="317.5">2</text>
<text font-size="9.9" stroke="#231f20" stroke-width="0.3" text-anchor="middle" x="532.4" y="329.0">3</text>
<text font-size="9.9" stroke="#231f20" stroke-width="0.3" text-anchor="middle" x="532.4" y="340.5">4</text>
<text font-size="9.9" stroke="#231f20" stroke-width="0.3" text-anchor="middle" x="532.4" y="352.4">5</text>
<text font-size="9.9" stroke="#231f20" stroke-width="0.3" text-anchor="middle" x="532.4" y="364.0">6</text>
<text font-size="9.9" stroke="#231f20" stroke-width="0.3" text-anchor="middle" x="532.4" y="375.6">7</text>
<circle cx="557.8" cy="280" r="2.55" fill="#0a0a0a" stroke="none" stroke-width="1" />
<circle cx="565.3" cy="280" r="2.55" fill="#0a0a0a" stroke="none" stroke-width="1" />
<circle cx="572.8" cy="280" r="2.55" fill="#0a0a0a" stroke="none" stroke-width="1" />
<circle cx="580.3" cy="280" r="2.55" fill="#0a0a0a" stroke="none" stroke-width="1" />
<circle cx="587.8" cy="280" r="2.55" fill="#0a0a0a" stroke="none" stroke-width="1" />
<circle cx="595.3" cy="280" r="2.55" fill="#0a0a0a" stroke="none" stroke-width="1" />
<circle cx="606" cy="280" r="2.5" fill="#0a0a0a" stroke="#b87838" stroke-width="0.45" />
<circle cx="613.5" cy="280" r="2.5" fill="#0a0a0a" stroke="#b87838" stroke-width="0.45" />
<circle cx="621" cy="280" r="2.5" fill="#0a0a0a" stroke="#b87838" stroke-width="0.45" />
<circle cx="628.5" cy="280" r="2.5" fill="#0a0a0a" stroke="#b87838" stroke-width="0.45" />
<circle cx="636" cy="280" r="2.5" fill="#0a0a0a" stroke="#b87838" stroke-width="0.45" />
<circle cx="643.5" cy="280" r="2.5" fill="#0a0a0a" stroke="#b87838" stroke-width="0.45" />
<circle cx="557.8" cy="287.5" r="2.3" fill="#fff" stroke="#707073" stroke-width="1.0" />
<circle cx="565.3" cy="287.5" r="2.55" fill="#0a0a0a" stroke="none" stroke-width="1" />
<circle cx="572.8" cy="287.5" r="2.55" fill="#0a0a0a" stroke="none" stroke-width="1" />
<circle cx="580.3" cy="287.5" r="2.55" fill="#0a0a0a" stroke="none" stroke-width="1" />
<circle cx="587.8" cy="287.5" r="2.3" fill="#fff" stroke="#707073" stroke-width="1.0" />
<circle cx="595.3" cy="287.5" r="2.55" fill="#0a0a0a" stroke="none" stroke-width="1" />
<circle cx="606" cy="287.5" r="2.5" fill="#0a0a0a" stroke="#b87838" stroke-width="0.45" />
<circle cx="613.5" cy="287.5" r="2.5" fill="#0a0a0a" stroke="#b87838" stroke-width="0.45" />
<circle cx="621" cy="287.5" r="2.5" fill="#0a0a0a" stroke="#b87838" stroke-width="0.45" />
<circle cx="628.5" cy="287.5" r="2.5" fill="#0a0a0a" stroke="#b87838" stroke-width="0.45" />
<circle cx="636" cy="287.5" r="2.5" fill="#0a0a0a" stroke="#b87838" stroke-width="0.45" />
<circle cx="643.5" cy="287.5" r="2.5" fill="#0a0a0a" stroke="#b87838" stroke-width="0.45" />
<circle cx="565.3" cy="295" r="2.3" fill="#fff" stroke="#707073" stroke-width="1.0" />
<circle cx="572.8" cy="295" r="2.3" fill="#fff" stroke="#707073" stroke-width="1.0" />
<circle cx="580.3" cy="295" r="2.3" fill="#fff" stroke="#707073" stroke-width="1.0" />
<circle cx="595.3" cy="295" r="2.3" fill="#fff" stroke="#707073" stroke-width="1.0" />
<circle cx="606" cy="295" r="2.5" fill="#0a0a0a" stroke="#b87838" stroke-width="0.45" />
<circle cx="613.5" cy="295" r="2.3" fill="#fff" stroke="#f3b87c" stroke-width="1.0" />
<circle cx="621" cy="295" r="2.3" fill="#fff" stroke="#f3b87c" stroke-width="1.0" />
<circle cx="628.5" cy="295" r="2.3" fill="#fff" stroke="#f3b87c" stroke-width="1.0" />
<circle cx="636" cy="295" r="2.3" fill="#fff" stroke="#f3b87c" stroke-width="1.0" />
<circle cx="643.5" cy="295" r="2.3" fill="#fff" stroke="#f3b87c" stroke-width="1.0" />
<circle cx="606" cy="302.6" r="2.3" fill="#fff" stroke="#f3b87c" stroke-width="1.0" />
<circle cx="557.8" cy="312.6" r="2.55" fill="#0a0a0a" stroke="none" stroke-width="1" />
<circle cx="565.3" cy="312.6" r="2.55" fill="#0a0a0a" stroke="none" stroke-width="1" />
<circle cx="572.8" cy="312.6" r="2.55" fill="#0a0a0a" stroke="none" stroke-width="1" />
<circle cx="580.3" cy="312.6" r="2.3" fill="#fff" stroke="#707073" stroke-width="1.0" />
<circle cx="587.8" cy="312.6" r="2.55" fill="#0a0a0a" stroke="none" stroke-width="1" />
<circle cx="595.3" cy="312.6" r="2.3" fill="#fff" stroke="#707073" stroke-width="1.0" />
<circle cx="606" cy="312.6" r="2.5" fill="#0a0a0a" stroke="#b87838" stroke-width="0.45" />
<circle cx="613.5" cy="312.6" r="2.5" fill="#0a0a0a" stroke="#b87838" stroke-width="0.45" />
<circle cx="621" cy="312.6" r="2.5" fill="#0a0a0a" stroke="#b87838" stroke-width="0.45" />
<circle cx="628.5" cy="312.6" r="2.5" fill="#0a0a0a" stroke="#b87838" stroke-width="0.45" />
<circle cx="636" cy="312.6" r="2.5" fill="#0a0a0a" stroke="#b87838" stroke-width="0.45" />
<circle cx="643.5" cy="312.6" r="2.5" fill="#0a0a0a" stroke="#b87838" stroke-width="0.45" />
<circle cx="557.8" cy="324.5" r="2.3" fill="#fff" stroke="#707073" stroke-width="1.0" />
<circle cx="565.3" cy="324.5" r="2.3" fill="#fff" stroke="#707073" stroke-width="1.0" />
<circle cx="572.8" cy="324.5" r="2.3" fill="#fff" stroke="#707073" stroke-width="1.0" />
<circle cx="580.3" cy="324.5" r="2.3" fill="#fff" stroke="#707073" stroke-width="1.0" />
<circle cx="587.8" cy="324.5" r="2.3" fill="#fff" stroke="#707073" stroke-width="1.0" />
<circle cx="595.3" cy="324.5" r="2.3" fill="#fff" stroke="#707073" stroke-width="1.0" />
<circle cx="606" cy="324.5" r="2.5" fill="#0a0a0a" stroke="#b87838" stroke-width="0.45" />
<circle cx="613.5" cy="324.5" r="2.5" fill="#0a0a0a" stroke="#b87838" stroke-width="0.45" />
<circle cx="621" cy="324.5" r="2.5" fill="#0a0a0a" stroke="#b87838" stroke-width="0.45" />
<circle cx="628.5" cy="324.5" r="2.5" fill="#0a0a0a" stroke="#b87838" stroke-width="0.45" />
<circle cx="636" cy="324.5" r="2.5" fill="#0a0a0a" stroke="#b87838" stroke-width="0.45" />
<circle cx="643.5" cy="324.5" r="2.5" fill="#0a0a0a" stroke="#b87838" stroke-width="0.45" />
<circle cx="557.8" cy="336" r="2.3" fill="#fff" stroke="#707073" stroke-width="1.0" />
<circle cx="565.3" cy="336" r="2.3" fill="#fff" stroke="#707073" stroke-width="1.0" />
<circle cx="572.8" cy="336" r="2.3" fill="#fff" stroke="#707073" stroke-width="1.0" />
<circle cx="580.3" cy="336" r="2.3" fill="#fff" stroke="#707073" stroke-width="1.0" />
<circle cx="587.8" cy="336" r="2.3" fill="#fff" stroke="#707073" stroke-width="1.0" />
<circle cx="595.3" cy="336" r="2.55" fill="#0a0a0a" stroke="none" stroke-width="1" />
<circle cx="606" cy="336" r="2.5" fill="#0a0a0a" stroke="#b87838" stroke-width="0.45" />
<circle cx="613.5" cy="336" r="2.5" fill="#0a0a0a" stroke="#b87838" stroke-width="0.45" />
<circle cx="621" cy="336" r="2.5" fill="#0a0a0a" stroke="#b87838" stroke-width="0.45" />
<circle cx="628.5" cy="336" r="2.5" fill="#0a0a0a" stroke="#b87838" stroke-width="0.45" />
<circle cx="636" cy="336" r="2.5" fill="#0a0a0a" stroke="#b87838" stroke-width="0.45" />
<circle cx="643.5" cy="336" r="2.5" fill="#0a0a0a" stroke="#b87838" stroke-width="0.45" />
<circle cx="557.8" cy="347.6" r="2.3" fill="#fff" stroke="#707073" stroke-width="1.0" />
<circle cx="565.3" cy="347.6" r="2.3" fill="#fff" stroke="#707073" stroke-width="1.0" />
<circle cx="572.8" cy="347.6" r="2.3" fill="#fff" stroke="#707073" stroke-width="1.0" />
<circle cx="580.3" cy="347.6" r="2.55" fill="#0a0a0a" stroke="none" stroke-width="1" />
<circle cx="587.8" cy="347.6" r="2.3" fill="#fff" stroke="#707073" stroke-width="1.0" />
<circle cx="595.3" cy="347.6" r="2.3" fill="#fff" stroke="#707073" stroke-width="1.0" />
<circle cx="606" cy="347.6" r="2.5" fill="#0a0a0a" stroke="#b87838" stroke-width="0.45" />
<circle cx="613.5" cy="347.6" r="2.5" fill="#0a0a0a" stroke="#b87838" stroke-width="0.45" />
<circle cx="621" cy="347.6" r="2.5" fill="#0a0a0a" stroke="#b87838" stroke-width="0.45" />
<circle cx="628.5" cy="347.6" r="2.5" fill="#0a0a0a" stroke="#b87838" stroke-width="0.45" />
<circle cx="636" cy="347.6" r="2.5" fill="#0a0a0a" stroke="#b87838" stroke-width="0.45" />
<circle cx="643.5" cy="347.6" r="2.5" fill="#0a0a0a" stroke="#b87838" stroke-width="0.45" />
<circle cx="557.8" cy="359.3" r="2.55" fill="#0a0a0a" stroke="none" stroke-width="1" />
<circle cx="565.3" cy="359.3" r="2.3" fill="#fff" stroke="#707073" stroke-width="1.0" />
<circle cx="572.8" cy="359.3" r="2.3" fill="#fff" stroke="#707073" stroke-width="1.0" />
<circle cx="580.3" cy="359.3" r="2.3" fill="#fff" stroke="#707073" stroke-width="1.0" />
<circle cx="587.8" cy="359.3" r="2.3" fill="#fff" stroke="#707073" stroke-width="1.0" />
<circle cx="595.3" cy="359.3" r="2.3" fill="#fff" stroke="#707073" stroke-width="1.0" />
<circle cx="606" cy="359.3" r="2.5" fill="#0a0a0a" stroke="#b87838" stroke-width="0.45" />
<circle cx="613.5" cy="359.3" r="2.5" fill="#0a0a0a" stroke="#b87838" stroke-width="0.45" />
<circle cx="621" cy="359.3" r="2.5" fill="#0a0a0a" stroke="#b87838" stroke-width="0.45" />
<circle cx="628.5" cy="359.3" r="2.5" fill="#0a0a0a" stroke="#b87838" stroke-width="0.45" />
<circle cx="636" cy="359.3" r="2.5" fill="#0a0a0a" stroke="#b87838" stroke-width="0.45" />
<circle cx="643.5" cy="359.3" r="2.5" fill="#0a0a0a" stroke="#b87838" stroke-width="0.45" />
<circle cx="557.8" cy="370.8" r="2.3" fill="#fff" stroke="#707073" stroke-width="1.0" />
<circle cx="565.3" cy="370.8" r="2.3" fill="#fff" stroke="#707073" stroke-width="1.0" />
<circle cx="572.8" cy="370.8" r="2.55" fill="#0a0a0a" stroke="none" stroke-width="1" />
<circle cx="580.3" cy="370.8" r="2.3" fill="#fff" stroke="#707073" stroke-width="1.0" />
<circle cx="587.8" cy="370.8" r="2.55" fill="#0a0a0a" stroke="none" stroke-width="1" />
<circle cx="595.3" cy="370.8" r="2.3" fill="#fff" stroke="#707073" stroke-width="1.0" />
<circle cx="606" cy="370.8" r="2.5" fill="#0a0a0a" stroke="#b87838" stroke-width="0.45" />
<circle cx="613.5" cy="370.8" r="2.5" fill="#0a0a0a" stroke="#b87838" stroke-width="0.45" />
<circle cx="621" cy="370.8" r="2.5" fill="#0a0a0a" stroke="#b87838" stroke-width="0.45" />
<circle cx="628.5" cy="370.8" r="2.5" fill="#0a0a0a" stroke="#b87838" stroke-width="0.45" />
<circle cx="636" cy="370.8" r="2.5" fill="#0a0a0a" stroke="#b87838" stroke-width="0.45" />
<circle cx="643.5" cy="370.8" r="2.5" fill="#0a0a0a" stroke="#b87838" stroke-width="0.45" />
</g>
<g id="panel_h">
<text font-size="12.4" stroke="#231f20" stroke-width="0.55" textLength="7.8" lengthAdjust="spacingAndGlyphs" font-weight="bold" x="279.8" y="408.3">H</text>
<rect x="325.4" y="407.9" width="8.6" height="3.1" fill="#fff" stroke="#2b2a2b" stroke-width="1.0" />
<text font-size="8.32" stroke="#231f20" stroke-width="0.17" textLength="20.8" lengthAdjust="spacingAndGlyphs" x="338.3" y="411.5">sgCtrl</text>
<rect x="325.4" y="417.8" width="8.6" height="3.1" fill="#f0922b" stroke="#3a2a1c" stroke-width="0.85" />
<text font-size="8.32" stroke="#f0a552" stroke-width="0.17" textLength="26.4" lengthAdjust="spacingAndGlyphs" fill="#f0a552" x="338.3" y="421.4">sgHcn1</text>
<rect x="335.1" y="499.4" width="14.9" height="6" fill="#d5d5d7" stroke="none" stroke-width="1" />
<text font-size="10.82" stroke="#231f20" stroke-width="0.36" textLength="45.6" lengthAdjust="spacingAndGlyphs" transform="translate(303.6,481.6) rotate(-90)">Sag (mV)</text>
<path d="M334.6,492.6 L334.6,451.4 L348.8,451.4 L348.8,492.6Z" stroke="#2b2a2b" stroke-width="1.15" fill="#fff" stroke-linejoin="round" />
<rect x="354" y="485.6" width="14.1" height="7.0" fill="#f0922b" stroke="#3a2a1c" stroke-width="0.85" />
<circle cx="337.7" cy="439.9" r="2.1" fill="none" stroke="#2b2a2b" stroke-width="1.1" />
<circle cx="341.8" cy="443" r="2.1" fill="none" stroke="#2b2a2b" stroke-width="1.1" />
<circle cx="341.8" cy="448.2" r="2.1" fill="none" stroke="#2b2a2b" stroke-width="1.1" />
<circle cx="341.8" cy="452.4" r="2.1" fill="none" stroke="#2b2a2b" stroke-width="1.1" />
<circle cx="341.8" cy="471.7" r="2.1" fill="none" stroke="#2b2a2b" stroke-width="1.1" />
<circle cx="361.1" cy="475.8" r="2.1" fill="none" stroke="#2b2a2b" stroke-width="1.1" />
<circle cx="361.1" cy="480.6" r="2.1" fill="none" stroke="#2b2a2b" stroke-width="1.1" />
<circle cx="357.3" cy="489.3" r="2.0" fill="#f7bd7c" stroke="#2b2a2b" stroke-width="1.0" />
<circle cx="361.1" cy="489.3" r="2.0" fill="#f7bd7c" stroke="#2b2a2b" stroke-width="1.0" />
<circle cx="365.1" cy="489.3" r="2.0" fill="#f7bd7c" stroke="#2b2a2b" stroke-width="1.0" />
<line x1="341.8" y1="445.3" x2="341.8" y2="456.1" stroke="#2b2a2b" stroke-width="0.9" /><line x1="338.1" y1="445.3" x2="345.5" y2="445.3" stroke="#2b2a2b" stroke-width="0.9" /><line x1="338.1" y1="456.1" x2="345.5" y2="456.1" stroke="#2b2a2b" stroke-width="0.9" />
<line x1="361.1" y1="482.7" x2="361.1" y2="487.3" stroke="#2b2a2b" stroke-width="0.9" /><line x1="357.40000000000003" y1="482.7" x2="364.8" y2="482.7" stroke="#2b2a2b" stroke-width="0.9" /><line x1="357.40000000000003" y1="487.3" x2="364.8" y2="487.3" stroke="#2b2a2b" stroke-width="0.9" />
<line x1="327.9" y1="429.05" x2="327.9" y2="493.05" stroke="#2b2a2b" stroke-width="1.1" />
<line x1="323.9" y1="429.5" x2="327.9" y2="429.5" stroke="#2b2a2b" stroke-width="1.1" />
<text font-size="10.9" stroke="#231f20" stroke-width="0.36" text-anchor="end" x="320.3" y="433.5">25</text>
<line x1="323.9" y1="442.12" x2="327.9" y2="442.12" stroke="#2b2a2b" stroke-width="1.1" />
<text font-size="10.9" stroke="#231f20" stroke-width="0.36" text-anchor="end" x="320.3" y="446.12">20</text>
<line x1="323.9" y1="454.74" x2="327.9" y2="454.74" stroke="#2b2a2b" stroke-width="1.1" />
<text font-size="10.9" stroke="#231f20" stroke-width="0.36" text-anchor="end" x="320.3" y="458.74">15</text>
<line x1="323.9" y1="467.36" x2="327.9" y2="467.36" stroke="#2b2a2b" stroke-width="1.1" />
<text font-size="10.9" stroke="#231f20" stroke-width="0.36" text-anchor="end" x="320.3" y="471.36">10</text>
<line x1="323.9" y1="479.98" x2="327.9" y2="479.98" stroke="#2b2a2b" stroke-width="1.1" />
<text font-size="10.9" stroke="#231f20" stroke-width="0.36" text-anchor="end" x="320.3" y="483.98">5</text>
<line x1="323.9" y1="492.6" x2="327.9" y2="492.6" stroke="#2b2a2b" stroke-width="1.1" />
<text font-size="10.9" stroke="#231f20" stroke-width="0.36" text-anchor="end" x="320.3" y="496.6">0</text>
<line x1="342.4" y1="434.9" x2="359.2" y2="434.9" stroke="#2b2a2b" stroke-width="1.2" />
<text font-size="8.8" stroke="#231f20" stroke-width="0.35" text-anchor="middle" font-weight="bold" x="351" y="434.5" letter-spacing="1.1">**</text>
<text font-size="10.5" stroke="#231f20" stroke-width="0.36" textLength="73.6" lengthAdjust="spacingAndGlyphs" transform="translate(395.2,495.2) rotate(-90)">Rheobase (pA)</text>
<path d="M425.7,492.6 L425.7,483.5 L439.9,483.5 L439.9,492.6Z" stroke="#2b2a2b" stroke-width="1.15" fill="#fff" stroke-linejoin="round" />
<rect x="444.8" y="460.7" width="14.1" height="31.9" fill="#f0922b" stroke="#3a2a1c" stroke-width="0.85" />
<circle cx="432.6" cy="479.4" r="2.1" fill="#fff" stroke="#2b2a2b" stroke-width="1.1" />
<circle cx="428.5" cy="482.7" r="2.1" fill="#fff" stroke="#2b2a2b" stroke-width="1.1" />
<circle cx="437.4" cy="484.2" r="2.1" fill="#fff" stroke="#2b2a2b" stroke-width="1.1" />
<circle cx="428.5" cy="486.2" r="2.1" fill="#fff" stroke="#2b2a2b" stroke-width="1.1" />
<circle cx="432.8" cy="484.4" r="2.1" fill="#fff" stroke="#2b2a2b" stroke-width="1.1" />
<circle cx="435" cy="485" r="2.1" fill="#fff" stroke="#2b2a2b" stroke-width="1.1" />
<circle cx="451.9" cy="442" r="2.1" fill="none" stroke="#2b2a2b" stroke-width="1.1" />
<circle cx="448.8" cy="455.1" r="2.1" fill="none" stroke="#2b2a2b" stroke-width="1.1" />
<circle cx="453.6" cy="455.1" r="2.1" fill="none" stroke="#2b2a2b" stroke-width="1.1" />
<circle cx="451.9" cy="471.7" r="2.1" fill="none" stroke="#2b2a2b" stroke-width="1.1" />
<circle cx="451.9" cy="476.6" r="2.1" fill="none" stroke="#2b2a2b" stroke-width="1.1" />
<line x1="451.9" y1="455.7" x2="451.9" y2="466.5" stroke="#2b2a2b" stroke-width="0.9" /><line x1="448.2" y1="455.7" x2="455.59999999999997" y2="455.7" stroke="#2b2a2b" stroke-width="0.9" /><line x1="448.2" y1="466.5" x2="455.59999999999997" y2="466.5" stroke="#2b2a2b" stroke-width="0.9" />
<line x1="432.8" y1="481.6" x2="432.8" y2="484.6" stroke="#2b2a2b" stroke-width="0.9" /><line x1="429.1" y1="481.6" x2="436.5" y2="481.6" stroke="#2b2a2b" stroke-width="0.9" /><line x1="429.1" y1="484.6" x2="436.5" y2="484.6" stroke="#2b2a2b" stroke-width="0.9" />
<line x1="419.0" y1="428.55" x2="419.0" y2="493.05" stroke="#2b2a2b" stroke-width="1.1" />
<line x1="415.0" y1="429.0" x2="419.0" y2="429.0" stroke="#2b2a2b" stroke-width="1.1" />
<text font-size="10.9" stroke="#231f20" stroke-width="0.36" text-anchor="end" x="412.2" y="433.0">40</text>
<line x1="415.0" y1="444.9" x2="419.0" y2="444.9" stroke="#2b2a2b" stroke-width="1.1" />
<text font-size="10.9" stroke="#231f20" stroke-width="0.36" text-anchor="end" x="412.2" y="448.9">30</text>
<line x1="415.0" y1="460.8" x2="419.0" y2="460.8" stroke="#2b2a2b" stroke-width="1.1" />
<text font-size="10.9" stroke="#231f20" stroke-width="0.36" text-anchor="end" x="412.2" y="464.8">20</text>
<line x1="415.0" y1="476.7" x2="419.0" y2="476.7" stroke="#2b2a2b" stroke-width="1.1" />
<text font-size="10.9" stroke="#231f20" stroke-width="0.36" text-anchor="end" x="412.2" y="480.7">10</text>
<line x1="415.0" y1="492.6" x2="419.0" y2="492.6" stroke="#2b2a2b" stroke-width="1.1" />
<text font-size="10.9" stroke="#231f20" stroke-width="0.36" text-anchor="end" x="412.2" y="496.6">0</text>
<line x1="433.9" y1="435.3" x2="450.4" y2="435.3" stroke="#2b2a2b" stroke-width="1.2" />
<text font-size="8.8" stroke="#231f20" stroke-width="0.35" text-anchor="middle" font-weight="bold" x="442.2" y="435.4" letter-spacing="1.1">**</text>
<text font-size="11.44" stroke="#231f20" stroke-width="0.36" textLength="28.6" lengthAdjust="spacingAndGlyphs" x="501.4" y="422.2">sgCtrl</text>
<path d="M516.0,466.8 L516.00,437.50 A29.3,29.3 0 0 1 545.30,466.80 Z" fill="#0a0a0a" stroke="#2b2a2b" stroke-width="0.6" stroke-linejoin="round"/>
<path d="M516.0,466.8 L545.30,466.80 A29.3,29.3 0 1 1 498.78,443.10 Z" fill="#808285" stroke="#2b2a2b" stroke-width="0.6" stroke-linejoin="round"/>
<path d="M516.0,466.8 L498.78,443.10 A29.3,29.3 0 0 1 516.00,437.50 Z" fill="#c7c8ca" stroke="#2b2a2b" stroke-width="0.6" stroke-linejoin="round"/>
<circle cx="516.0" cy="466.8" r="29.3" fill="none" stroke="#2b2a2b" stroke-width="0.7" />
<text font-size="10.82" stroke="#231f20" stroke-width="0.36" textLength="21.2" lengthAdjust="spacingAndGlyphs" x="492.5" y="437.2">2/20</text>
<text font-size="10.82" stroke="#ffffff" stroke-width="0.1" textLength="21.2" lengthAdjust="spacingAndGlyphs" fill="#ffffff" x="519.5" y="459.2">5/20</text>
<text font-size="10.82" stroke="#231f20" stroke-width="0.36" textLength="26.8" lengthAdjust="spacingAndGlyphs" x="492" y="479">13/20</text>
<text font-size="11.44" stroke="#f0a552" stroke-width="0.36" textLength="36.4" lengthAdjust="spacingAndGlyphs" fill="#f0a552" x="561.3" y="422.2">sgHcn1</text>
<path d="M581.7,465.7 L581.70,436.60 A29.1,29.1 0 1 1 553.33,472.20 Z" fill="#0a0a0a" stroke="#f0a552" stroke-width="1.1" stroke-linejoin="round"/>
<path d="M581.7,465.7 L553.33,472.20 A29.1,29.1 0 0 1 581.70,436.60 Z" fill="#c7c8ca" stroke="#f0a552" stroke-width="1.1" stroke-linejoin="round"/>
<circle cx="581.7" cy="465.7" r="29.1" fill="none" stroke="#f09a3c" stroke-width="1.3" />
<text font-size="10.82" stroke="#231f20" stroke-width="0.36" textLength="20.8" lengthAdjust="spacingAndGlyphs" x="558" y="462.8">6/21</text>
<text font-size="10.82" stroke="#ffffff" stroke-width="0.1" textLength="26.2" lengthAdjust="spacingAndGlyphs" fill="#ffffff" x="578" y="477.4">15/21</text>
<rect x="618.5" y="461.6" width="6.8" height="4.2" fill="#0a0a0a" stroke="none" stroke-width="1" />
<text font-size="9.98" stroke="#231f20" stroke-width="0.27" textLength="27.4" lengthAdjust="spacingAndGlyphs" x="627" y="467.1">= 0 Hz</text>
<rect x="618.5" y="472" width="6.8" height="4.2" fill="#808285" stroke="none" stroke-width="1" />
<text font-size="9.98" stroke="#231f20" stroke-width="0.27" textLength="30" lengthAdjust="spacingAndGlyphs" x="627" y="477.4">0–3 Hz</text>
<rect x="618.5" y="482.3" width="6.8" height="4.2" fill="#c7c8ca" stroke="none" stroke-width="1" />
<text font-size="9.98" stroke="#231f20" stroke-width="0.27" textLength="27.4" lengthAdjust="spacingAndGlyphs" x="627" y="487.8">≥ 3 Hz</text>
</g>
</svg>
</body></html>
